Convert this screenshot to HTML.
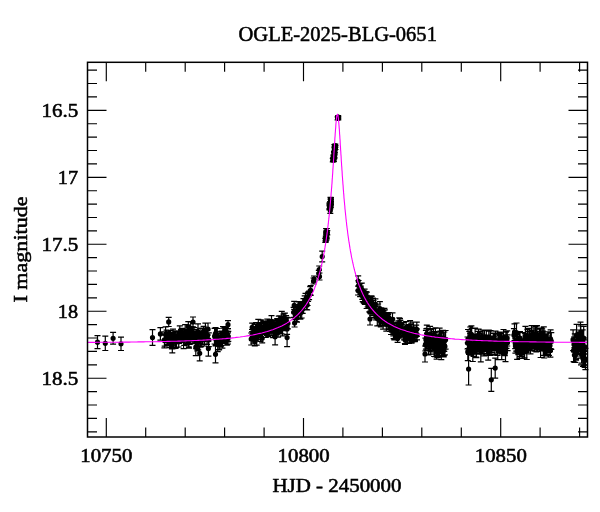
<!DOCTYPE html>
<html><head><meta charset="utf-8"><style>
html,body{margin:0;padding:0;background:#fff;width:600px;height:512px;overflow:hidden}
svg{display:block}
text{font-family:"Liberation Serif",serif;fill:#000}
</style></head><body>
<svg width="600" height="512" viewBox="0 0 600 512" style="will-change:transform">
<rect width="600" height="512" fill="#fff"/>
<path d="M97.5 335.7V348.7M94.5 335.7h6M94.5 348.7h6M105.3 336.1V350.5M102.3 336.1h6M102.3 350.5h6M113.1 332.4V344.2M110.1 332.4h6M110.1 344.2h6M121.0 337.1V350.5M118.0 337.1h6M118.0 350.5h6M152.5 329.7V345.3M149.5 329.7h6M149.5 345.3h6M160.4 327.6V340.2M157.4 327.6h6M157.4 340.2h6M168.7 317.3V326.5M165.7 317.3h6M165.7 326.5h6M164.4 331.9V347.9M161.4 331.9h6M161.4 347.9h6M164.7 334.8V346.1M161.7 334.8h6M161.7 346.1h6M165.6 326.9V342.2M162.6 326.9h6M162.6 342.2h6M166.6 330.2V339.6M163.6 330.2h6M163.6 339.6h6M166.9 331.8V344.9M163.9 331.8h6M163.9 344.9h6M167.9 332.4V344.4M164.9 332.4h6M164.9 344.4h6M168.3 332.8V345.9M165.3 332.8h6M165.3 345.9h6M169.6 334.6V347.7M166.6 334.6h6M166.6 347.7h6M170.3 335.9V347.5M167.3 335.9h6M167.3 347.5h6M170.5 330.6V344.4M167.5 330.6h6M167.5 344.4h6M171.6 333.5V345.7M168.6 333.5h6M168.6 345.7h6M171.9 333.0V348.9M168.9 333.0h6M168.9 348.9h6M173.0 329.1V342.7M170.0 329.1h6M170.0 342.7h6M173.3 332.6V348.6M170.3 332.6h6M170.3 348.6h6M174.4 330.8V340.1M171.4 330.8h6M171.4 340.1h6M175.3 332.2V341.4M172.3 332.2h6M172.3 341.4h6M175.6 336.0V348.4M172.6 336.0h6M172.6 348.4h6M176.5 335.7V347.5M173.5 335.7h6M173.5 347.5h6M177.2 331.2V340.3M174.2 331.2h6M174.2 340.3h6M178.0 332.1V341.2M175.0 332.1h6M175.0 341.2h6M178.7 336.4V347.0M175.7 336.4h6M175.7 347.0h6M179.2 331.6V343.3M176.2 331.6h6M176.2 343.3h6M179.8 325.8V339.0M176.8 325.8h6M176.8 339.0h6M181.0 329.6V341.9M178.0 329.6h6M178.0 341.9h6M181.7 328.4V339.4M178.7 328.4h6M178.7 339.4h6M182.4 330.1V342.3M179.4 330.1h6M179.4 342.3h6M182.6 331.7V341.6M179.6 331.7h6M179.6 341.6h6M183.6 331.9V348.6M180.6 331.9h6M180.6 348.6h6M184.2 333.0V345.3M181.2 333.0h6M181.2 345.3h6M185.2 324.6V340.0M182.2 324.6h6M182.2 340.0h6M186.0 329.4V338.5M183.0 329.4h6M183.0 338.5h6M186.2 331.4V345.1M183.2 331.4h6M183.2 345.1h6M186.9 330.6V343.9M183.9 330.6h6M183.9 343.9h6M188.0 334.1V343.4M185.0 334.1h6M185.0 343.4h6M188.7 335.3V346.8M185.7 335.3h6M185.7 346.8h6M189.0 332.8V348.2M186.0 332.8h6M186.0 348.2h6M189.7 330.3V344.4M186.7 330.3h6M186.7 344.4h6M190.7 322.0V337.4M187.7 322.0h6M187.7 337.4h6M191.3 326.5V335.7M188.3 326.5h6M188.3 335.7h6M192.2 332.4V343.4M189.2 332.4h6M189.2 343.4h6M192.8 326.8V341.1M189.8 326.8h6M189.8 341.1h6M193.7 332.7V343.7M190.7 332.7h6M190.7 343.7h6M194.1 327.6V339.0M191.1 327.6h6M191.1 339.0h6M194.6 331.6V341.3M191.6 331.6h6M191.6 341.3h6M195.9 329.6V340.1M192.9 329.6h6M192.9 340.1h6M196.3 333.9V348.7M193.3 333.9h6M193.3 348.7h6M197.3 337.8V350.9M194.3 337.8h6M194.3 350.9h6M198.0 323.9V340.0M195.0 323.9h6M195.0 340.0h6M198.2 332.8V349.8M195.2 332.8h6M195.2 349.8h6M199.5 333.2V343.6M196.5 333.2h6M196.5 343.6h6M200.1 328.3V340.6M197.1 328.3h6M197.1 340.6h6M200.3 332.4V347.2M197.3 332.4h6M197.3 347.2h6M201.2 331.5V346.6M198.2 331.5h6M198.2 346.6h6M202.4 328.2V338.2M199.4 328.2h6M199.4 338.2h6M202.5 331.7V344.3M199.5 331.7h6M199.5 344.3h6M203.6 326.3V335.9M200.6 326.3h6M200.6 335.9h6M204.2 333.4V346.0M201.2 333.4h6M201.2 346.0h6M204.6 331.8V344.0M201.6 331.8h6M201.6 344.0h6M205.4 323.1V339.0M202.4 323.1h6M202.4 339.0h6M206.3 329.6V340.9M203.3 329.6h6M203.3 340.9h6M207.0 328.4V344.3M204.0 328.4h6M204.0 344.3h6M207.5 330.0V340.8M204.5 330.0h6M204.5 340.8h6M208.8 332.9V346.7M205.8 332.9h6M205.8 346.7h6M214.6 328.4V344.0M211.6 328.4h6M211.6 344.0h6M215.6 327.6V339.0M212.6 327.6h6M212.6 339.0h6M215.8 333.4V345.1M212.8 333.4h6M212.8 345.1h6M216.8 328.5V342.1M213.8 328.5h6M213.8 342.1h6M217.3 328.5V345.1M214.3 328.5h6M214.3 345.1h6M217.7 337.3V351.6M214.7 337.3h6M214.7 351.6h6M218.1 336.6V345.7M215.1 336.6h6M215.1 345.7h6M219.1 335.1V349.9M216.1 335.1h6M216.1 349.9h6M219.2 336.9V349.5M216.2 336.9h6M216.2 349.5h6M220.1 331.9V342.4M217.1 331.9h6M217.1 342.4h6M220.8 333.3V346.7M217.8 333.3h6M217.8 346.7h6M221.3 331.5V345.6M218.3 331.5h6M218.3 345.6h6M221.6 331.0V343.7M218.6 331.0h6M218.6 343.7h6M222.4 332.4V348.2M219.4 332.4h6M219.4 348.2h6M223.0 326.5V340.1M220.0 326.5h6M220.0 340.1h6M223.4 328.1V338.5M220.4 328.1h6M220.4 338.5h6M223.9 331.5V343.5M220.9 331.5h6M220.9 343.5h6M224.6 327.3V343.4M221.6 327.3h6M221.6 343.4h6M225.1 329.8V342.1M222.1 329.8h6M222.1 342.1h6M225.9 327.5V339.5M222.9 327.5h6M222.9 339.5h6M226.3 330.9V340.4M223.3 330.9h6M223.3 340.4h6M226.9 334.1V345.1M223.9 334.1h6M223.9 345.1h6M227.5 328.8V342.0M224.5 328.8h6M224.5 342.0h6M228.0 332.9V344.0M225.0 332.9h6M225.0 344.0h6M228.3 331.3V341.4M225.3 331.3h6M225.3 341.4h6M251.2 333.0V345.0M248.2 333.0h6M248.2 345.0h6M252.0 329.5V340.4M249.0 329.5h6M249.0 340.4h6M252.2 323.2V331.6M249.2 323.2h6M249.2 331.6h6M252.9 327.2V338.0M249.9 327.2h6M249.9 338.0h6M253.3 331.2V343.2M250.3 331.2h6M250.3 343.2h6M254.1 326.8V340.9M251.1 326.8h6M251.1 340.9h6M254.8 337.2V345.9M251.8 337.2h6M251.8 345.9h6M255.5 324.4V338.0M252.5 324.4h6M252.5 338.0h6M256.1 322.5V334.1M253.1 322.5h6M253.1 334.1h6M256.7 332.4V345.2M253.7 332.4h6M253.7 345.2h6M257.1 330.4V338.0M254.1 330.4h6M254.1 338.0h6M257.3 327.1V336.3M254.3 327.1h6M254.3 336.3h6M258.3 319.3V332.6M255.3 319.3h6M255.3 332.6h6M258.5 330.4V339.5M255.5 330.4h6M255.5 339.5h6M259.5 329.4V337.4M256.5 329.4h6M256.5 337.4h6M259.8 323.3V332.5M256.8 323.3h6M256.8 332.5h6M260.5 327.5V341.4M257.5 327.5h6M257.5 341.4h6M260.8 319.9V332.7M257.8 319.9h6M257.8 332.7h6M261.6 322.5V331.1M258.6 322.5h6M258.6 331.1h6M262.2 333.6V342.9M259.2 333.6h6M259.2 342.9h6M262.6 325.5V333.0M259.6 325.5h6M259.6 333.0h6M263.2 322.7V334.3M260.2 322.7h6M260.2 334.3h6M263.8 321.1V334.5M260.8 321.1h6M260.8 334.5h6M264.1 322.4V333.6M261.1 322.4h6M261.1 333.6h6M264.9 323.7V334.5M261.9 323.7h6M261.9 334.5h6M265.5 321.8V330.0M262.5 321.8h6M262.5 330.0h6M265.8 328.0V337.5M262.8 328.0h6M262.8 337.5h6M266.7 327.0V335.5M263.7 327.0h6M263.7 335.5h6M267.3 319.2V332.0M264.3 319.2h6M264.3 332.0h6M267.7 320.8V332.3M264.7 320.8h6M264.7 332.3h6M268.1 328.2V336.6M265.1 328.2h6M265.1 336.6h6M269.1 321.2V332.0M266.1 321.2h6M266.1 332.0h6M269.7 322.3V335.3M266.7 322.3h6M266.7 335.3h6M270.0 321.2V329.1M267.0 321.2h6M267.0 329.1h6M270.8 319.9V328.2M267.8 319.9h6M267.8 328.2h6M271.2 326.5V335.7M268.2 326.5h6M268.2 335.7h6M271.5 315.6V327.3M268.5 315.6h6M268.5 327.3h6M272.2 320.8V331.0M269.2 320.8h6M269.2 331.0h6M273.1 324.7V337.6M270.1 324.7h6M270.1 337.6h6M273.3 320.8V328.9M270.3 320.8h6M270.3 328.9h6M274.2 320.1V328.1M271.2 320.1h6M271.2 328.1h6M274.9 329.5V336.8M271.9 329.5h6M271.9 336.8h6M275.4 323.1V334.6M272.4 323.1h6M272.4 334.6h6M275.9 321.1V335.2M272.9 321.1h6M272.9 335.2h6M276.6 324.1V334.0M273.6 324.1h6M273.6 334.0h6M277.2 318.6V329.2M274.2 318.6h6M274.2 329.2h6M277.4 319.6V331.1M274.4 319.6h6M274.4 331.1h6M278.1 327.7V337.2M275.1 327.7h6M275.1 337.2h6M278.8 316.2V324.0M275.8 316.2h6M275.8 324.0h6M279.3 319.9V330.2M276.3 319.9h6M276.3 330.2h6M279.8 315.8V324.0M276.8 315.8h6M276.8 324.0h6M280.4 325.4V334.0M277.4 325.4h6M277.4 334.0h6M281.2 317.1V328.9M278.2 317.1h6M278.2 328.9h6M281.6 322.5V333.9M278.6 322.5h6M278.6 333.9h6M281.8 311.4V325.8M278.8 311.4h6M278.8 325.8h6M282.6 321.2V335.8M279.6 321.2h6M279.6 335.8h6M283.4 316.8V325.6M280.4 316.8h6M280.4 325.6h6M283.5 314.2V328.4M280.5 314.2h6M280.5 328.4h6M284.2 319.3V330.7M281.2 319.3h6M281.2 330.7h6M284.9 313.1V326.7M281.9 313.1h6M281.9 326.7h6M285.5 319.8V327.8M282.5 319.8h6M282.5 327.8h6M286.1 315.6V322.9M283.1 315.6h6M283.1 322.9h6M286.8 317.4V326.8M283.8 317.4h6M283.8 326.8h6M287.1 323.4V334.4M284.1 323.4h6M284.1 334.4h6M287.9 317.9V328.9M284.9 317.9h6M284.9 328.9h6M293.6 307.3V317.4M290.6 307.3h6M290.6 317.4h6M294.6 319.1V327.0M291.6 319.1h6M291.6 327.0h6M295.3 311.3V319.6M292.3 311.3h6M292.3 319.6h6M296.4 308.8V321.7M293.4 308.8h6M293.4 321.7h6M297.0 313.5V322.1M294.0 313.5h6M294.0 322.1h6M297.3 304.6V315.6M294.3 304.6h6M294.3 315.6h6M298.2 301.8V313.9M295.2 301.8h6M295.2 313.9h6M299.0 301.6V312.2M296.0 301.6h6M296.0 312.2h6M300.3 303.6V312.7M297.3 303.6h6M297.3 312.7h6M300.4 306.8V319.2M297.4 306.8h6M297.4 319.2h6M301.7 305.8V318.0M298.7 305.8h6M298.7 318.0h6M302.3 302.3V310.0M299.3 302.3h6M299.3 310.0h6M302.7 304.7V313.3M299.7 304.7h6M299.7 313.3h6M303.5 298.6V306.9M300.5 298.6h6M300.5 306.9h6M304.7 295.9V304.4M301.7 295.9h6M301.7 304.4h6M305.5 293.3V305.5M302.5 293.3h6M302.5 305.5h6M306.2 300.8V309.6M303.2 300.8h6M303.2 309.6h6M307.2 300.0V309.8M304.2 300.0h6M304.2 309.8h6M307.6 295.1V305.5M304.6 295.1h6M304.6 305.5h6M308.1 292.2V301.5M305.1 292.2h6M305.1 301.5h6M309.1 291.1V299.6M306.1 291.1h6M306.1 299.6h6M310.2 286.7V294.7M307.2 286.7h6M307.2 294.7h6M310.7 285.5V295.3M307.7 285.5h6M307.7 295.3h6M319.2 266.0V273.0M316.2 266.0h6M316.2 273.0h6M318.8 270.3V276.7M315.8 270.3h6M315.8 276.7h6M319.5 273.0V280.0M316.5 273.0h6M316.5 280.0h6M314.0 276.0V282.0M311.0 276.0h6M311.0 282.0h6M313.5 278.0V284.0M310.5 278.0h6M310.5 284.0h6M322.2 251.1V261.9M319.2 251.1h6M319.2 261.9h6M325.8 236.0V240.3M322.8 236.0h6M322.8 240.3h6M326.3 231.1V237.0M323.3 231.1h6M323.3 237.0h6M326.9 228.5V234.5M323.9 228.5h6M323.9 234.5h6M326.2 232.6V237.3M323.2 232.6h6M323.2 237.3h6M325.3 238.5V242.5M322.3 238.5h6M322.3 242.5h6M326.6 234.8V239.8M323.6 234.8h6M323.6 239.8h6M327.3 230.6V234.9M324.3 230.6h6M324.3 234.9h6M326.4 233.1V237.5M323.4 233.1h6M323.4 237.5h6M326.1 228.6V234.2M323.1 228.6h6M323.1 234.2h6M326.5 231.8V237.2M323.5 231.8h6M323.5 237.2h6M325.9 236.3V240.0M322.9 236.3h6M322.9 240.0h6M325.7 237.5V242.1M322.7 237.5h6M322.7 242.1h6M325.8 237.4V241.6M322.8 237.4h6M322.8 241.6h6M326.7 232.7V238.3M323.7 232.7h6M323.7 238.3h6M330.3 207.4V213.3M327.3 207.4h6M327.3 213.3h6M330.3 203.5V207.3M327.3 203.5h6M327.3 207.3h6M330.5 197.4V203.1M327.5 197.4h6M327.5 203.1h6M330.6 199.5V203.2M327.6 199.5h6M327.6 203.2h6M331.0 200.1V204.3M328.0 200.1h6M328.0 204.3h6M329.5 204.5V209.6M326.5 204.5h6M326.5 209.6h6M331.0 197.6V201.5M328.0 197.6h6M328.0 201.5h6M330.3 204.2V209.0M327.3 204.2h6M327.3 209.0h6M330.3 202.2V207.3M327.3 202.2h6M327.3 207.3h6M329.5 205.2V209.8M326.5 205.2h6M326.5 209.8h6M330.7 198.4V202.0M327.7 198.4h6M327.7 202.0h6M330.3 203.2V208.1M327.3 203.2h6M327.3 208.1h6M330.1 201.6V206.0M327.1 201.6h6M327.1 206.0h6M329.3 203.2V208.9M326.3 203.2h6M326.3 208.9h6M330.9 199.6V205.1M327.9 199.6h6M327.9 205.1h6M331.0 203.0V207.2M328.0 203.0h6M328.0 207.2h6M333.5 157.7V161.1M330.5 157.7h6M330.5 161.1h6M335.5 145.7V149.5M332.5 145.7h6M332.5 149.5h6M333.9 158.6V161.5M330.9 158.6h6M330.9 161.5h6M335.3 144.0V147.4M332.3 144.0h6M332.3 147.4h6M333.8 157.5V161.3M330.8 157.5h6M330.8 161.3h6M333.1 157.8V161.1M330.1 157.8h6M330.1 161.1h6M334.2 152.5V157.1M331.2 152.5h6M331.2 157.1h6M334.7 146.5V150.2M331.7 146.5h6M331.7 150.2h6M334.0 151.9V154.9M331.0 151.9h6M331.0 154.9h6M334.0 151.3V154.9M331.0 151.3h6M331.0 154.9h6M334.2 155.5V158.9M331.2 155.5h6M331.2 158.9h6M334.4 144.7V147.9M331.4 144.7h6M331.4 147.9h6M332.8 158.4V161.8M329.8 158.4h6M329.8 161.8h6M335.0 144.4V149.1M332.0 144.4h6M332.0 149.1h6M334.0 155.5V159.1M331.0 155.5h6M331.0 159.1h6M335.2 144.3V147.2M332.2 144.3h6M332.2 147.2h6M334.9 147.6V152.3M331.9 147.6h6M331.9 152.3h6M334.6 147.5V152.0M331.6 147.5h6M331.6 152.0h6M334.6 153.5V157.8M331.6 153.5h6M331.6 157.8h6M333.7 156.9V161.7M330.7 156.9h6M330.7 161.7h6M334.6 150.0V154.7M331.6 150.0h6M331.6 154.7h6M333.3 155.1V158.6M330.3 155.1h6M330.3 158.6h6M338.2 116.9V119.3M335.2 116.9h6M335.2 119.3h6M337.6 116.8V119.8M334.6 116.8h6M334.6 119.8h6M338.3 116.0V118.2M335.3 116.0h6M335.3 118.2h6M338.1 116.0V118.8M335.1 116.0h6M335.1 118.8h6M338.1 115.5V118.5M335.1 115.5h6M335.1 118.5h6M338.3 116.5V119.9M335.3 116.5h6M335.3 119.9h6M358.2 275.8V286.2M355.2 275.8h6M355.2 286.2h6M358.6 280.5V290.5M355.6 280.5h6M355.6 290.5h6M358.0 286.0V295.0M355.0 286.0h6M355.0 295.0h6M360.5 283.5V292.5M357.5 283.5h6M357.5 292.5h6M360.1 286.4V296.6M357.1 286.4h6M357.1 296.6h6M360.8 286.2V293.9M357.8 286.2h6M357.8 293.9h6M361.4 283.1V293.8M358.4 283.1h6M358.4 293.8h6M361.8 283.2V295.9M358.8 283.2h6M358.8 295.9h6M362.3 290.5V299.4M359.3 290.5h6M359.3 299.4h6M362.7 292.0V301.7M359.7 292.0h6M359.7 301.7h6M363.5 290.5V302.7M360.5 290.5h6M360.5 302.7h6M364.2 291.4V303.5M361.2 291.4h6M361.2 303.5h6M364.6 289.1V301.6M361.6 289.1h6M361.6 301.6h6M364.8 294.7V304.3M361.8 294.7h6M361.8 304.3h6M365.6 293.3V303.9M362.6 293.3h6M362.6 303.9h6M365.9 291.6V299.3M362.9 291.6h6M362.9 299.3h6M366.6 295.3V308.5M363.6 295.3h6M363.6 308.5h6M366.9 292.1V303.3M363.9 292.1h6M363.9 303.3h6M367.7 297.0V306.8M364.7 297.0h6M364.7 306.8h6M368.2 296.4V305.2M365.2 296.4h6M365.2 305.2h6M368.6 300.4V308.2M365.6 300.4h6M365.6 308.2h6M369.2 301.1V312.0M366.2 301.1h6M366.2 312.0h6M369.5 301.9V311.8M366.5 301.9h6M366.5 311.8h6M370.3 297.6V311.2M367.3 297.6h6M367.3 311.2h6M370.8 299.0V313.9M367.8 299.0h6M367.8 313.9h6M371.4 295.8V310.2M368.4 295.8h6M368.4 310.2h6M371.7 296.3V309.7M368.7 296.3h6M368.7 309.7h6M372.1 305.5V315.7M369.1 305.5h6M369.1 315.7h6M372.9 298.0V311.4M369.9 298.0h6M369.9 311.4h6M373.5 300.5V314.1M370.5 300.5h6M370.5 314.1h6M374.0 305.2V317.6M371.0 305.2h6M371.0 317.6h6M374.4 302.4V312.4M371.4 302.4h6M371.4 312.4h6M374.9 306.3V314.1M371.9 306.3h6M371.9 314.1h6M375.4 298.8V309.8M372.4 298.8h6M372.4 309.8h6M376.1 310.5V320.0M373.1 310.5h6M373.1 320.0h6M376.4 310.6V318.7M373.4 310.6h6M373.4 318.7h6M377.2 309.1V317.0M374.2 309.1h6M374.2 317.0h6M377.3 310.9V325.8M374.3 310.9h6M374.3 325.8h6M378.1 304.0V318.5M375.1 304.0h6M375.1 318.5h6M378.5 310.4V317.5M375.5 310.4h6M375.5 317.5h6M379.2 315.0V325.7M376.2 315.0h6M376.2 325.7h6M379.7 316.1V325.0M376.7 316.1h6M376.7 325.0h6M379.9 301.7V315.5M376.9 301.7h6M376.9 315.5h6M380.8 316.5V326.9M377.8 316.5h6M377.8 326.9h6M381.3 307.9V320.1M378.3 307.9h6M378.3 320.1h6M381.8 308.8V321.9M378.8 308.8h6M378.8 321.9h6M382.5 311.1V325.5M379.5 311.1h6M379.5 325.5h6M382.8 309.8V319.5M379.8 309.8h6M379.8 319.5h6M383.1 314.2V329.1M380.1 314.2h6M380.1 329.1h6M383.6 310.9V321.1M380.6 310.9h6M380.6 321.1h6M384.4 308.4V319.1M381.4 308.4h6M381.4 319.1h6M384.9 309.8V318.3M381.9 309.8h6M381.9 318.3h6M385.2 314.2V321.4M382.2 314.2h6M382.2 321.4h6M385.7 312.7V324.1M382.7 312.7h6M382.7 324.1h6M386.3 317.1V331.2M383.3 317.1h6M383.3 331.2h6M386.8 315.2V326.1M383.8 315.2h6M383.8 326.1h6M387.6 313.1V326.2M384.6 313.1h6M384.6 326.2h6M388.1 314.4V329.0M385.1 314.4h6M385.1 329.0h6M388.7 318.9V328.9M385.7 318.9h6M385.7 328.9h6M388.8 312.5V322.1M385.8 312.5h6M385.8 322.1h6M389.7 317.5V329.5M386.7 317.5h6M386.7 329.5h6M390.1 323.0V331.3M387.1 323.0h6M387.1 331.3h6M390.4 322.0V331.3M387.4 322.0h6M387.4 331.3h6M391.0 325.9V334.5M388.0 325.9h6M388.0 334.5h6M391.8 317.9V331.7M388.8 317.9h6M388.8 331.7h6M392.3 318.8V327.8M389.3 318.8h6M389.3 327.8h6M392.5 312.8V325.8M389.5 312.8h6M389.5 325.8h6M393.3 327.3V335.9M390.3 327.3h6M390.3 335.9h6M393.6 326.3V338.6M390.6 326.3h6M390.6 338.6h6M394.3 325.3V339.8M391.3 325.3h6M391.3 339.8h6M394.8 324.0V333.0M391.8 324.0h6M391.8 333.0h6M395.2 329.3V339.9M392.2 329.3h6M392.2 339.9h6M395.7 328.2V338.0M392.7 328.2h6M392.7 338.0h6M396.1 328.2V338.2M393.1 328.2h6M393.1 338.2h6M396.7 323.7V330.9M393.7 323.7h6M393.7 330.9h6M397.2 322.3V336.1M394.2 322.3h6M394.2 336.1h6M397.6 334.9V342.3M394.6 334.9h6M394.6 342.3h6M398.4 320.9V333.5M395.4 320.9h6M395.4 333.5h6M398.8 329.0V338.1M395.8 329.0h6M395.8 338.1h6M399.3 317.8V328.5M396.3 317.8h6M396.3 328.5h6M400.0 318.6V328.0M397.0 318.6h6M397.0 328.0h6M400.4 320.4V329.4M397.4 320.4h6M397.4 329.4h6M401.0 323.1V333.5M398.0 323.1h6M398.0 333.5h6M401.5 323.8V332.4M398.5 323.8h6M398.5 332.4h6M402.2 324.9V336.7M399.2 324.9h6M399.2 336.7h6M402.4 322.5V337.1M399.4 322.5h6M399.4 337.1h6M403.3 327.8V335.3M400.3 327.8h6M400.3 335.3h6M403.9 328.9V339.8M400.9 328.9h6M400.9 339.8h6M403.9 322.3V336.1M400.9 322.3h6M400.9 336.1h6M404.9 333.8V343.5M401.9 333.8h6M401.9 343.5h6M405.0 335.0V344.4M402.0 335.0h6M402.0 344.4h6M406.0 328.5V343.4M403.0 328.5h6M403.0 343.4h6M406.1 321.7V335.2M403.1 321.7h6M403.1 335.2h6M406.6 326.5V337.9M403.6 326.5h6M403.6 337.9h6M407.4 334.4V342.8M404.4 334.4h6M404.4 342.8h6M408.0 325.4V334.6M405.0 325.4h6M405.0 334.6h6M408.3 331.2V340.6M405.3 331.2h6M405.3 340.6h6M409.0 328.6V343.5M406.0 328.6h6M406.0 343.5h6M409.3 324.7V337.5M406.3 324.7h6M406.3 337.5h6M410.1 320.7V334.3M407.1 320.7h6M407.1 334.3h6M410.6 328.8V338.6M407.6 328.8h6M407.6 338.6h6M411.1 323.8V336.8M408.1 323.8h6M408.1 336.8h6M411.6 335.2V343.1M408.6 335.2h6M408.6 343.1h6M412.3 333.8V341.8M409.3 333.8h6M409.3 341.8h6M412.7 332.4V339.8M409.7 332.4h6M409.7 339.8h6M413.2 322.2V336.2M410.2 322.2h6M410.2 336.2h6M413.5 329.3V338.9M410.5 329.3h6M410.5 338.9h6M413.9 325.0V334.9M410.9 325.0h6M410.9 334.9h6M414.8 327.4V341.6M411.8 327.4h6M411.8 341.6h6M415.0 330.2V341.2M412.0 330.2h6M412.0 341.2h6M415.5 329.6V337.3M412.5 329.6h6M412.5 337.3h6M416.2 325.1V335.2M413.2 325.1h6M413.2 335.2h6M416.8 322.1V336.5M413.8 322.1h6M413.8 336.5h6M417.0 329.0V339.8M414.0 329.0h6M414.0 339.8h6M425.4 338.2V350.9M422.4 338.2h6M422.4 350.9h6M425.9 330.4V349.2M422.9 330.4h6M422.9 349.2h6M426.4 328.6V346.3M423.4 328.6h6M423.4 346.3h6M426.8 325.1V342.7M423.8 325.1h6M423.8 342.7h6M427.0 333.3V350.7M424.0 333.3h6M424.0 350.7h6M427.4 328.4V343.4M424.4 328.4h6M424.4 343.4h6M428.0 332.3V343.9M425.0 332.3h6M425.0 343.9h6M428.5 335.1V354.9M425.5 335.1h6M425.5 354.9h6M429.2 334.9V347.8M426.2 334.9h6M426.2 347.8h6M429.5 337.5V350.6M426.5 337.5h6M426.5 350.6h6M430.1 326.4V345.9M427.1 326.4h6M427.1 345.9h6M430.2 329.3V343.1M427.2 329.3h6M427.2 343.1h6M430.7 339.3V354.2M427.7 339.3h6M427.7 354.2h6M431.6 328.9V345.2M428.6 328.9h6M428.6 345.2h6M431.7 329.0V346.9M428.7 329.0h6M428.7 346.9h6M432.1 336.3V351.8M429.1 336.3h6M429.1 351.8h6M432.9 333.6V347.2M429.9 333.6h6M429.9 347.2h6M433.0 335.4V346.6M430.0 335.4h6M430.0 346.6h6M433.5 328.5V340.5M430.5 328.5h6M430.5 340.5h6M434.1 340.9V356.5M431.1 340.9h6M431.1 356.5h6M434.6 331.7V341.7M431.6 331.7h6M431.6 341.7h6M435.2 339.9V356.7M432.2 339.9h6M432.2 356.7h6M435.5 327.9V344.4M432.5 327.9h6M432.5 344.4h6M435.9 332.8V350.1M432.9 332.8h6M432.9 350.1h6M436.6 344.6V359.1M433.6 344.6h6M433.6 359.1h6M436.8 341.8V355.7M433.8 341.8h6M433.8 355.7h6M437.3 338.2V357.3M434.3 338.2h6M434.3 357.3h6M438.2 339.9V352.8M435.2 339.9h6M435.2 352.8h6M438.5 338.8V357.2M435.5 338.8h6M435.5 357.2h6M439.0 340.6V355.8M436.0 340.6h6M436.0 355.8h6M439.4 340.0V355.0M436.4 340.0h6M436.4 355.0h6M439.6 328.1V343.9M436.6 328.1h6M436.6 343.9h6M440.3 331.2V345.9M437.3 331.2h6M437.3 345.9h6M440.8 331.4V349.9M437.8 331.4h6M437.8 349.9h6M441.3 343.4V359.7M438.3 343.4h6M438.3 359.7h6M441.6 333.2V345.8M438.6 333.2h6M438.6 345.8h6M442.3 337.7V351.4M439.3 337.7h6M439.3 351.4h6M442.6 336.6V355.0M439.6 336.6h6M439.6 355.0h6M443.1 330.3V345.7M440.1 330.3h6M440.1 345.7h6M443.7 339.3V356.9M440.7 339.3h6M440.7 356.9h6M443.9 344.7V355.6M440.9 344.7h6M440.9 355.6h6M444.3 332.0V351.3M441.3 332.0h6M441.3 351.3h6M444.9 337.9V354.9M441.9 337.9h6M441.9 354.9h6M445.6 330.5V349.1M442.6 330.5h6M442.6 349.1h6M467.5 337.0V349.0M464.5 337.0h6M464.5 349.0h6M467.8 342.8V360.6M464.8 342.8h6M464.8 360.6h6M468.0 329.5V348.6M465.0 329.5h6M465.0 348.6h6M469.0 342.7V354.4M466.0 342.7h6M466.0 354.4h6M469.3 331.3V350.3M466.3 331.3h6M466.3 350.3h6M470.1 333.5V348.4M467.1 333.5h6M467.1 348.4h6M470.2 327.0V346.5M467.2 327.0h6M467.2 346.5h6M470.6 342.9V355.1M467.6 342.9h6M467.6 355.1h6M471.4 325.9V342.7M468.4 325.9h6M468.4 342.7h6M471.7 328.5V348.4M468.7 328.5h6M468.7 348.4h6M472.2 342.1V352.8M469.2 342.1h6M469.2 352.8h6M472.8 342.9V361.5M469.8 342.9h6M469.8 361.5h6M473.5 338.9V356.4M470.5 338.9h6M470.5 356.4h6M474.0 336.7V352.8M471.0 336.7h6M471.0 352.8h6M474.3 340.7V354.1M471.3 340.7h6M471.3 354.1h6M475.1 328.2V343.8M472.1 328.2h6M472.1 343.8h6M475.3 335.6V349.4M472.3 335.6h6M472.3 349.4h6M476.2 344.1V357.0M473.2 344.1h6M473.2 357.0h6M476.4 340.2V357.6M473.4 340.2h6M473.4 357.6h6M476.8 338.7V353.7M473.8 338.7h6M473.8 353.7h6M477.5 331.4V346.1M474.5 331.4h6M474.5 346.1h6M477.8 337.2V348.6M474.8 337.2h6M474.8 348.6h6M478.6 329.2V348.4M475.6 329.2h6M475.6 348.4h6M479.2 333.6V349.7M476.2 333.6h6M476.2 349.7h6M479.3 331.5V349.3M476.3 331.5h6M476.3 349.3h6M480.2 332.1V351.1M477.2 332.1h6M477.2 351.1h6M480.3 335.4V354.1M477.3 335.4h6M477.3 354.1h6M480.8 342.1V361.8M477.8 342.1h6M477.8 361.8h6M481.7 334.0V351.9M478.7 334.0h6M478.7 351.9h6M481.8 339.2V350.5M478.8 339.2h6M478.8 350.5h6M482.3 336.2V353.7M479.3 336.2h6M479.3 353.7h6M482.9 330.0V347.8M479.9 330.0h6M479.9 347.8h6M483.8 341.4V356.0M480.8 341.4h6M480.8 356.0h6M484.1 337.5V355.9M481.1 337.5h6M481.1 355.9h6M484.4 330.7V342.8M481.4 330.7h6M481.4 342.8h6M485.2 335.5V348.1M482.2 335.5h6M482.2 348.1h6M485.8 339.3V351.7M482.8 339.3h6M482.8 351.7h6M486.3 330.4V346.1M483.3 330.4h6M483.3 346.1h6M486.5 338.8V349.9M483.5 338.8h6M483.5 349.9h6M487.3 340.7V354.8M484.3 340.7h6M484.3 354.8h6M487.7 335.2V353.5M484.7 335.2h6M484.7 353.5h6M488.2 342.1V360.1M485.2 342.1h6M485.2 360.1h6M488.8 330.0V348.5M485.8 330.0h6M485.8 348.5h6M489.1 331.2V346.5M486.1 331.2h6M486.1 346.5h6M489.5 336.8V353.8M486.5 336.8h6M486.5 353.8h6M490.0 337.7V355.5M487.0 337.7h6M487.0 355.5h6M490.6 330.7V348.7M487.6 330.7h6M487.6 348.7h6M491.3 336.0V352.4M488.3 336.0h6M488.3 352.4h6M492.0 340.3V355.2M489.0 340.3h6M489.0 355.2h6M492.1 339.4V352.3M489.1 339.4h6M489.1 352.3h6M492.8 336.5V349.0M489.8 336.5h6M489.8 349.0h6M493.2 333.1V349.2M490.2 333.1h6M490.2 349.2h6M493.9 333.4V350.2M490.9 333.4h6M490.9 350.2h6M494.1 340.5V354.7M491.1 340.5h6M491.1 354.7h6M495.0 333.2V350.3M492.0 333.2h6M492.0 350.3h6M495.5 331.1V349.8M492.5 331.1h6M492.5 349.8h6M495.9 336.0V348.6M492.9 336.0h6M492.9 348.6h6M496.1 336.0V348.4M493.1 336.0h6M493.1 348.4h6M496.8 341.8V353.2M493.8 341.8h6M493.8 353.2h6M497.6 343.3V355.3M494.6 343.3h6M494.6 355.3h6M497.8 341.0V359.6M494.8 341.0h6M494.8 359.6h6M498.5 333.1V348.2M495.5 333.1h6M495.5 348.2h6M498.9 334.1V352.3M495.9 334.1h6M495.9 352.3h6M499.6 335.4V346.5M496.6 335.4h6M496.6 346.5h6M499.8 332.1V344.1M496.8 332.1h6M496.8 344.1h6M500.2 333.4V352.8M497.2 333.4h6M497.2 352.8h6M501.0 333.4V347.2M498.0 333.4h6M498.0 347.2h6M501.7 340.6V359.6M498.7 340.6h6M498.7 359.6h6M501.9 340.0V353.9M498.9 340.0h6M498.9 353.9h6M502.3 338.6V349.1M499.3 338.6h6M499.3 349.1h6M502.7 336.4V352.6M499.7 336.4h6M499.7 352.6h6M503.5 329.5V348.9M500.5 329.5h6M500.5 348.9h6M504.0 339.7V354.1M501.0 339.7h6M501.0 354.1h6M504.5 334.8V354.4M501.5 334.8h6M501.5 354.4h6M504.8 342.0V355.7M501.8 342.0h6M501.8 355.7h6M505.5 342.9V361.7M502.5 342.9h6M502.5 361.7h6M505.9 332.1V343.6M502.9 332.1h6M502.9 343.6h6M506.5 337.0V348.3M503.5 337.0h6M503.5 348.3h6M507.2 330.8V346.0M504.2 330.8h6M504.2 346.0h6M507.6 334.8V350.6M504.6 334.8h6M504.6 350.6h6M513.9 328.6V341.6M510.9 328.6h6M510.9 341.6h6M514.5 323.9V340.6M511.5 323.9h6M511.5 340.6h6M515.2 337.9V348.7M512.2 337.9h6M512.2 348.7h6M515.4 338.8V353.1M512.4 338.8h6M512.4 353.1h6M516.2 334.6V351.2M513.2 334.6h6M513.2 351.2h6M516.5 323.0V342.0M513.5 323.0h6M513.5 342.0h6M517.1 343.2V359.3M514.1 343.2h6M514.1 359.3h6M517.4 333.6V348.3M514.4 333.6h6M514.4 348.3h6M518.3 341.9V354.7M515.3 341.9h6M515.3 354.7h6M518.4 339.1V350.1M515.4 339.1h6M515.4 350.1h6M518.9 331.9V344.9M515.9 331.9h6M515.9 344.9h6M519.4 342.4V358.1M516.4 342.4h6M516.4 358.1h6M520.0 331.5V344.8M517.0 331.5h6M517.0 344.8h6M520.6 340.9V356.5M517.6 340.9h6M517.6 356.5h6M521.1 339.9V353.2M518.1 339.9h6M518.1 353.2h6M521.8 345.2V356.3M518.8 345.2h6M518.8 356.3h6M522.2 347.8V358.3M519.2 347.8h6M519.2 358.3h6M522.4 341.1V351.3M519.4 341.1h6M519.4 351.3h6M523.2 332.7V352.3M520.2 332.7h6M520.2 352.3h6M523.8 339.8V353.7M520.8 339.8h6M520.8 353.7h6M524.1 342.7V358.2M521.1 342.7h6M521.1 358.2h6M524.6 338.9V357.8M521.6 338.9h6M521.6 357.8h6M525.1 333.4V349.7M522.1 333.4h6M522.1 349.7h6M525.4 326.4V346.2M522.4 326.4h6M522.4 346.2h6M526.4 338.3V352.1M523.4 338.3h6M523.4 352.1h6M526.8 342.7V359.5M523.8 342.7h6M523.8 359.5h6M527.4 329.4V343.9M524.4 329.4h6M524.4 343.9h6M527.8 338.0V352.0M524.8 338.0h6M524.8 352.0h6M527.9 335.4V349.2M524.9 335.4h6M524.9 349.2h6M528.8 331.4V343.3M525.8 331.4h6M525.8 343.3h6M529.0 328.4V344.8M526.0 328.4h6M526.0 344.8h6M529.4 336.0V349.4M526.4 336.0h6M526.4 349.4h6M530.0 331.5V348.5M527.0 331.5h6M527.0 348.5h6M530.5 339.3V353.9M527.5 339.3h6M527.5 353.9h6M531.2 336.2V350.5M528.2 336.2h6M528.2 350.5h6M531.6 325.7V343.4M528.6 325.7h6M528.6 343.4h6M532.0 335.8V349.8M529.0 335.8h6M529.0 349.8h6M532.5 330.2V348.4M529.5 330.2h6M529.5 348.4h6M533.1 330.2V346.9M530.1 330.2h6M530.1 346.9h6M533.8 330.1V342.4M530.8 330.1h6M530.8 342.4h6M534.0 327.8V346.0M531.0 327.8h6M531.0 346.0h6M534.5 333.0V351.2M531.5 333.0h6M531.5 351.2h6M535.0 332.2V347.6M532.0 332.2h6M532.0 347.6h6M535.5 326.3V341.6M532.5 326.3h6M532.5 341.6h6M536.3 341.3V352.0M533.3 341.3h6M533.3 352.0h6M536.8 325.5V344.4M533.8 325.5h6M533.8 344.4h6M537.0 325.8V344.6M534.0 325.8h6M534.0 344.6h6M537.6 332.2V351.4M534.6 332.2h6M534.6 351.4h6M538.0 338.2V349.3M535.0 338.2h6M535.0 349.3h6M538.8 335.4V345.5M535.8 335.4h6M535.8 345.5h6M539.3 329.1V347.2M536.3 329.1h6M536.3 347.2h6M539.9 331.6V345.6M536.9 331.6h6M536.9 345.6h6M540.4 328.0V343.9M537.4 328.0h6M537.4 343.9h6M540.6 340.3V357.5M537.6 340.3h6M537.6 357.5h6M541.1 333.5V348.6M538.1 333.5h6M538.1 348.6h6M541.7 336.4V348.1M538.7 336.4h6M538.7 348.1h6M542.2 328.8V339.9M539.2 328.8h6M539.2 339.9h6M542.7 330.9V348.6M539.7 330.9h6M539.7 348.6h6M543.3 336.9V355.3M540.3 336.9h6M540.3 355.3h6M543.8 326.9V346.8M540.8 326.9h6M540.8 346.8h6M544.2 340.8V358.0M541.2 340.8h6M541.2 358.0h6M544.9 331.9V344.5M541.9 331.9h6M541.9 344.5h6M545.3 344.0V355.6M542.3 344.0h6M542.3 355.6h6M545.8 334.5V354.3M542.8 334.5h6M542.8 354.3h6M546.2 337.6V355.8M543.2 337.6h6M543.2 355.8h6M546.8 333.8V344.0M543.8 333.8h6M543.8 344.0h6M547.2 335.8V354.7M544.2 335.8h6M544.2 354.7h6M547.8 331.8V346.4M544.8 331.8h6M544.8 346.4h6M548.3 338.9V351.7M545.3 338.9h6M545.3 351.7h6M549.0 344.7V355.3M546.0 344.7h6M546.0 355.3h6M549.3 337.3V352.4M546.3 337.3h6M546.3 352.4h6M550.0 339.8V351.5M547.0 339.8h6M547.0 351.5h6M550.4 343.1V357.2M547.4 343.1h6M547.4 357.2h6M550.6 329.9V348.6M547.6 329.9h6M547.6 348.6h6M551.3 332.6V349.3M548.3 332.6h6M548.3 349.3h6M573.1 329.8V350.7M570.1 329.8h6M570.1 350.7h6M573.6 338.9V361.6M570.6 338.9h6M570.6 361.6h6M574.0 337.1V351.8M571.0 337.1h6M571.0 351.8h6M574.4 347.6V362.5M571.4 347.6h6M571.4 362.5h6M574.8 333.8V348.1M571.8 333.8h6M571.8 348.1h6M575.2 348.6V362.3M572.2 348.6h6M572.2 362.3h6M575.9 342.1V358.9M572.9 342.1h6M572.9 358.9h6M576.1 344.9V360.1M573.1 344.9h6M573.1 360.1h6M576.6 324.4V346.3M573.6 324.4h6M573.6 346.3h6M577.2 343.5V356.0M574.2 343.5h6M574.2 356.0h6M577.7 341.1V353.6M574.7 341.1h6M574.7 353.6h6M578.0 339.8V354.4M575.0 339.8h6M575.0 354.4h6M578.4 332.2V346.3M575.4 332.2h6M575.4 346.3h6M578.7 333.0V354.1M575.7 333.0h6M575.7 354.1h6M579.3 332.1V346.3M576.3 332.1h6M576.3 346.3h6M579.7 330.0V349.5M576.7 330.0h6M576.7 349.5h6M580.3 341.1V358.2M577.3 341.1h6M577.3 358.2h6M580.5 322.1V344.8M577.5 322.1h6M577.5 344.8h6M580.8 326.0V344.9M577.8 326.0h6M577.8 344.9h6M581.4 331.2V343.6M578.4 331.2h6M578.4 343.6h6M581.6 345.5V363.2M578.6 345.5h6M578.6 363.2h6M582.4 339.6V354.0M579.4 339.6h6M579.4 354.0h6M582.7 329.9V346.6M579.7 329.9h6M579.7 346.6h6M583.0 350.8V366.4M580.0 350.8h6M580.0 366.4h6M583.7 326.3V349.7M580.7 326.3h6M580.7 349.7h6M583.9 350.8V365.1M580.9 350.8h6M580.9 365.1h6M584.6 354.1V367.3M581.6 354.1h6M581.6 367.3h6M584.8 339.9V353.9M581.8 339.9h6M581.8 353.9h6M585.4 348.3V369.6M582.4 348.3h6M582.4 369.6h6M172.3 338.8V352.8M169.3 338.8h6M169.3 352.8h6M188.3 321.7V331.7M185.3 321.7h6M185.3 331.7h6M193.0 317.0V327.0M190.0 317.0h6M190.0 327.0h6M195.8 338.7V355.7M192.8 338.7h6M192.8 355.7h6M199.7 345.8V360.8M196.7 345.8h6M196.7 360.8h6M208.4 341.1V356.1M205.4 341.1h6M205.4 356.1h6M208.0 323.0V335.0M205.0 323.0h6M205.0 335.0h6M215.5 345.8V362.8M212.5 345.8h6M212.5 362.8h6M228.0 320.7V328.7M225.0 320.7h6M225.0 328.7h6M275.1 328.8V344.8M272.1 328.8h6M272.1 344.8h6M287.1 328.6V346.6M284.1 328.6h6M284.1 346.6h6M294.2 301.4V309.4M291.2 301.4h6M291.2 309.4h6M425.0 346.0V362.0M422.0 346.0h6M422.0 362.0h6M468.6 353.0V385.0M465.6 353.0h6M465.6 385.0h6M491.3 368.3V391.3M488.3 368.3h6M488.3 391.3h6M495.2 358.1V378.1M492.2 358.1h6M492.2 378.1h6M370.0 313.0V325.0M367.0 313.0h6M367.0 325.0h6" stroke="#000" stroke-width="1.2" fill="none"/>
<path d="M94.9 342.2a2.6 2.6 0 1 0 5.2 0a2.6 2.6 0 1 0 -5.2 0M102.7 343.3a2.6 2.6 0 1 0 5.2 0a2.6 2.6 0 1 0 -5.2 0M110.5 338.3a2.6 2.6 0 1 0 5.2 0a2.6 2.6 0 1 0 -5.2 0M118.4 343.8a2.6 2.6 0 1 0 5.2 0a2.6 2.6 0 1 0 -5.2 0M149.9 337.5a2.6 2.6 0 1 0 5.2 0a2.6 2.6 0 1 0 -5.2 0M157.8 333.9a2.6 2.6 0 1 0 5.2 0a2.6 2.6 0 1 0 -5.2 0M166.1 321.9a2.6 2.6 0 1 0 5.2 0a2.6 2.6 0 1 0 -5.2 0M161.8 339.9a2.6 2.6 0 1 0 5.2 0a2.6 2.6 0 1 0 -5.2 0M162.1 340.5a2.6 2.6 0 1 0 5.2 0a2.6 2.6 0 1 0 -5.2 0M163.0 334.6a2.6 2.6 0 1 0 5.2 0a2.6 2.6 0 1 0 -5.2 0M164.0 334.9a2.6 2.6 0 1 0 5.2 0a2.6 2.6 0 1 0 -5.2 0M164.3 338.3a2.6 2.6 0 1 0 5.2 0a2.6 2.6 0 1 0 -5.2 0M165.3 338.4a2.6 2.6 0 1 0 5.2 0a2.6 2.6 0 1 0 -5.2 0M165.7 339.3a2.6 2.6 0 1 0 5.2 0a2.6 2.6 0 1 0 -5.2 0M167.0 341.1a2.6 2.6 0 1 0 5.2 0a2.6 2.6 0 1 0 -5.2 0M167.7 341.7a2.6 2.6 0 1 0 5.2 0a2.6 2.6 0 1 0 -5.2 0M167.9 337.5a2.6 2.6 0 1 0 5.2 0a2.6 2.6 0 1 0 -5.2 0M169.0 339.6a2.6 2.6 0 1 0 5.2 0a2.6 2.6 0 1 0 -5.2 0M169.3 340.9a2.6 2.6 0 1 0 5.2 0a2.6 2.6 0 1 0 -5.2 0M170.4 335.9a2.6 2.6 0 1 0 5.2 0a2.6 2.6 0 1 0 -5.2 0M170.7 340.6a2.6 2.6 0 1 0 5.2 0a2.6 2.6 0 1 0 -5.2 0M171.8 335.5a2.6 2.6 0 1 0 5.2 0a2.6 2.6 0 1 0 -5.2 0M172.7 336.8a2.6 2.6 0 1 0 5.2 0a2.6 2.6 0 1 0 -5.2 0M173.0 342.2a2.6 2.6 0 1 0 5.2 0a2.6 2.6 0 1 0 -5.2 0M173.9 341.6a2.6 2.6 0 1 0 5.2 0a2.6 2.6 0 1 0 -5.2 0M174.6 335.7a2.6 2.6 0 1 0 5.2 0a2.6 2.6 0 1 0 -5.2 0M175.4 336.6a2.6 2.6 0 1 0 5.2 0a2.6 2.6 0 1 0 -5.2 0M176.1 341.7a2.6 2.6 0 1 0 5.2 0a2.6 2.6 0 1 0 -5.2 0M176.6 337.5a2.6 2.6 0 1 0 5.2 0a2.6 2.6 0 1 0 -5.2 0M177.2 332.4a2.6 2.6 0 1 0 5.2 0a2.6 2.6 0 1 0 -5.2 0M178.4 335.8a2.6 2.6 0 1 0 5.2 0a2.6 2.6 0 1 0 -5.2 0M179.1 333.9a2.6 2.6 0 1 0 5.2 0a2.6 2.6 0 1 0 -5.2 0M179.8 336.2a2.6 2.6 0 1 0 5.2 0a2.6 2.6 0 1 0 -5.2 0M180.0 336.7a2.6 2.6 0 1 0 5.2 0a2.6 2.6 0 1 0 -5.2 0M181.0 340.2a2.6 2.6 0 1 0 5.2 0a2.6 2.6 0 1 0 -5.2 0M181.6 339.1a2.6 2.6 0 1 0 5.2 0a2.6 2.6 0 1 0 -5.2 0M182.6 332.3a2.6 2.6 0 1 0 5.2 0a2.6 2.6 0 1 0 -5.2 0M183.4 334.0a2.6 2.6 0 1 0 5.2 0a2.6 2.6 0 1 0 -5.2 0M183.6 338.2a2.6 2.6 0 1 0 5.2 0a2.6 2.6 0 1 0 -5.2 0M184.3 337.2a2.6 2.6 0 1 0 5.2 0a2.6 2.6 0 1 0 -5.2 0M185.4 338.8a2.6 2.6 0 1 0 5.2 0a2.6 2.6 0 1 0 -5.2 0M186.1 341.0a2.6 2.6 0 1 0 5.2 0a2.6 2.6 0 1 0 -5.2 0M186.4 340.5a2.6 2.6 0 1 0 5.2 0a2.6 2.6 0 1 0 -5.2 0M187.1 337.4a2.6 2.6 0 1 0 5.2 0a2.6 2.6 0 1 0 -5.2 0M188.1 329.7a2.6 2.6 0 1 0 5.2 0a2.6 2.6 0 1 0 -5.2 0M188.7 331.1a2.6 2.6 0 1 0 5.2 0a2.6 2.6 0 1 0 -5.2 0M189.6 337.9a2.6 2.6 0 1 0 5.2 0a2.6 2.6 0 1 0 -5.2 0M190.2 334.0a2.6 2.6 0 1 0 5.2 0a2.6 2.6 0 1 0 -5.2 0M191.1 338.2a2.6 2.6 0 1 0 5.2 0a2.6 2.6 0 1 0 -5.2 0M191.5 333.3a2.6 2.6 0 1 0 5.2 0a2.6 2.6 0 1 0 -5.2 0M192.0 336.4a2.6 2.6 0 1 0 5.2 0a2.6 2.6 0 1 0 -5.2 0M193.3 334.8a2.6 2.6 0 1 0 5.2 0a2.6 2.6 0 1 0 -5.2 0M193.7 341.3a2.6 2.6 0 1 0 5.2 0a2.6 2.6 0 1 0 -5.2 0M194.7 344.4a2.6 2.6 0 1 0 5.2 0a2.6 2.6 0 1 0 -5.2 0M195.4 331.9a2.6 2.6 0 1 0 5.2 0a2.6 2.6 0 1 0 -5.2 0M195.6 341.3a2.6 2.6 0 1 0 5.2 0a2.6 2.6 0 1 0 -5.2 0M196.9 338.4a2.6 2.6 0 1 0 5.2 0a2.6 2.6 0 1 0 -5.2 0M197.5 334.4a2.6 2.6 0 1 0 5.2 0a2.6 2.6 0 1 0 -5.2 0M197.7 339.8a2.6 2.6 0 1 0 5.2 0a2.6 2.6 0 1 0 -5.2 0M198.6 339.0a2.6 2.6 0 1 0 5.2 0a2.6 2.6 0 1 0 -5.2 0M199.8 333.2a2.6 2.6 0 1 0 5.2 0a2.6 2.6 0 1 0 -5.2 0M199.9 338.0a2.6 2.6 0 1 0 5.2 0a2.6 2.6 0 1 0 -5.2 0M201.0 331.1a2.6 2.6 0 1 0 5.2 0a2.6 2.6 0 1 0 -5.2 0M201.6 339.7a2.6 2.6 0 1 0 5.2 0a2.6 2.6 0 1 0 -5.2 0M202.0 337.9a2.6 2.6 0 1 0 5.2 0a2.6 2.6 0 1 0 -5.2 0M202.8 331.1a2.6 2.6 0 1 0 5.2 0a2.6 2.6 0 1 0 -5.2 0M203.7 335.3a2.6 2.6 0 1 0 5.2 0a2.6 2.6 0 1 0 -5.2 0M204.4 336.3a2.6 2.6 0 1 0 5.2 0a2.6 2.6 0 1 0 -5.2 0M204.9 335.4a2.6 2.6 0 1 0 5.2 0a2.6 2.6 0 1 0 -5.2 0M206.2 339.8a2.6 2.6 0 1 0 5.2 0a2.6 2.6 0 1 0 -5.2 0M212.0 336.2a2.6 2.6 0 1 0 5.2 0a2.6 2.6 0 1 0 -5.2 0M213.0 333.3a2.6 2.6 0 1 0 5.2 0a2.6 2.6 0 1 0 -5.2 0M213.2 339.3a2.6 2.6 0 1 0 5.2 0a2.6 2.6 0 1 0 -5.2 0M214.2 335.3a2.6 2.6 0 1 0 5.2 0a2.6 2.6 0 1 0 -5.2 0M214.7 336.8a2.6 2.6 0 1 0 5.2 0a2.6 2.6 0 1 0 -5.2 0M215.1 344.4a2.6 2.6 0 1 0 5.2 0a2.6 2.6 0 1 0 -5.2 0M215.5 341.2a2.6 2.6 0 1 0 5.2 0a2.6 2.6 0 1 0 -5.2 0M216.5 342.5a2.6 2.6 0 1 0 5.2 0a2.6 2.6 0 1 0 -5.2 0M216.6 343.2a2.6 2.6 0 1 0 5.2 0a2.6 2.6 0 1 0 -5.2 0M217.5 337.1a2.6 2.6 0 1 0 5.2 0a2.6 2.6 0 1 0 -5.2 0M218.2 340.0a2.6 2.6 0 1 0 5.2 0a2.6 2.6 0 1 0 -5.2 0M218.7 338.5a2.6 2.6 0 1 0 5.2 0a2.6 2.6 0 1 0 -5.2 0M219.0 337.3a2.6 2.6 0 1 0 5.2 0a2.6 2.6 0 1 0 -5.2 0M219.8 340.3a2.6 2.6 0 1 0 5.2 0a2.6 2.6 0 1 0 -5.2 0M220.4 333.3a2.6 2.6 0 1 0 5.2 0a2.6 2.6 0 1 0 -5.2 0M220.8 333.3a2.6 2.6 0 1 0 5.2 0a2.6 2.6 0 1 0 -5.2 0M221.3 337.5a2.6 2.6 0 1 0 5.2 0a2.6 2.6 0 1 0 -5.2 0M222.0 335.3a2.6 2.6 0 1 0 5.2 0a2.6 2.6 0 1 0 -5.2 0M222.5 336.0a2.6 2.6 0 1 0 5.2 0a2.6 2.6 0 1 0 -5.2 0M223.3 333.5a2.6 2.6 0 1 0 5.2 0a2.6 2.6 0 1 0 -5.2 0M223.7 335.7a2.6 2.6 0 1 0 5.2 0a2.6 2.6 0 1 0 -5.2 0M224.3 339.6a2.6 2.6 0 1 0 5.2 0a2.6 2.6 0 1 0 -5.2 0M224.9 335.4a2.6 2.6 0 1 0 5.2 0a2.6 2.6 0 1 0 -5.2 0M225.4 338.4a2.6 2.6 0 1 0 5.2 0a2.6 2.6 0 1 0 -5.2 0M225.7 336.4a2.6 2.6 0 1 0 5.2 0a2.6 2.6 0 1 0 -5.2 0M248.6 339.0a2.6 2.6 0 1 0 5.2 0a2.6 2.6 0 1 0 -5.2 0M249.4 335.0a2.6 2.6 0 1 0 5.2 0a2.6 2.6 0 1 0 -5.2 0M249.6 327.4a2.6 2.6 0 1 0 5.2 0a2.6 2.6 0 1 0 -5.2 0M250.3 332.6a2.6 2.6 0 1 0 5.2 0a2.6 2.6 0 1 0 -5.2 0M250.7 337.2a2.6 2.6 0 1 0 5.2 0a2.6 2.6 0 1 0 -5.2 0M251.5 333.8a2.6 2.6 0 1 0 5.2 0a2.6 2.6 0 1 0 -5.2 0M252.2 341.5a2.6 2.6 0 1 0 5.2 0a2.6 2.6 0 1 0 -5.2 0M252.9 331.2a2.6 2.6 0 1 0 5.2 0a2.6 2.6 0 1 0 -5.2 0M253.5 328.3a2.6 2.6 0 1 0 5.2 0a2.6 2.6 0 1 0 -5.2 0M254.1 338.8a2.6 2.6 0 1 0 5.2 0a2.6 2.6 0 1 0 -5.2 0M254.5 334.2a2.6 2.6 0 1 0 5.2 0a2.6 2.6 0 1 0 -5.2 0M254.7 331.7a2.6 2.6 0 1 0 5.2 0a2.6 2.6 0 1 0 -5.2 0M255.7 326.0a2.6 2.6 0 1 0 5.2 0a2.6 2.6 0 1 0 -5.2 0M255.9 334.9a2.6 2.6 0 1 0 5.2 0a2.6 2.6 0 1 0 -5.2 0M256.9 333.4a2.6 2.6 0 1 0 5.2 0a2.6 2.6 0 1 0 -5.2 0M257.2 327.9a2.6 2.6 0 1 0 5.2 0a2.6 2.6 0 1 0 -5.2 0M257.9 334.5a2.6 2.6 0 1 0 5.2 0a2.6 2.6 0 1 0 -5.2 0M258.2 326.3a2.6 2.6 0 1 0 5.2 0a2.6 2.6 0 1 0 -5.2 0M259.0 326.8a2.6 2.6 0 1 0 5.2 0a2.6 2.6 0 1 0 -5.2 0M259.6 338.2a2.6 2.6 0 1 0 5.2 0a2.6 2.6 0 1 0 -5.2 0M260.0 329.2a2.6 2.6 0 1 0 5.2 0a2.6 2.6 0 1 0 -5.2 0M260.6 328.5a2.6 2.6 0 1 0 5.2 0a2.6 2.6 0 1 0 -5.2 0M261.2 327.8a2.6 2.6 0 1 0 5.2 0a2.6 2.6 0 1 0 -5.2 0M261.5 328.0a2.6 2.6 0 1 0 5.2 0a2.6 2.6 0 1 0 -5.2 0M262.3 329.1a2.6 2.6 0 1 0 5.2 0a2.6 2.6 0 1 0 -5.2 0M262.9 325.9a2.6 2.6 0 1 0 5.2 0a2.6 2.6 0 1 0 -5.2 0M263.2 332.8a2.6 2.6 0 1 0 5.2 0a2.6 2.6 0 1 0 -5.2 0M264.1 331.2a2.6 2.6 0 1 0 5.2 0a2.6 2.6 0 1 0 -5.2 0M264.7 325.6a2.6 2.6 0 1 0 5.2 0a2.6 2.6 0 1 0 -5.2 0M265.1 326.5a2.6 2.6 0 1 0 5.2 0a2.6 2.6 0 1 0 -5.2 0M265.5 332.4a2.6 2.6 0 1 0 5.2 0a2.6 2.6 0 1 0 -5.2 0M266.5 326.6a2.6 2.6 0 1 0 5.2 0a2.6 2.6 0 1 0 -5.2 0M267.1 328.8a2.6 2.6 0 1 0 5.2 0a2.6 2.6 0 1 0 -5.2 0M267.4 325.2a2.6 2.6 0 1 0 5.2 0a2.6 2.6 0 1 0 -5.2 0M268.2 324.1a2.6 2.6 0 1 0 5.2 0a2.6 2.6 0 1 0 -5.2 0M268.6 331.1a2.6 2.6 0 1 0 5.2 0a2.6 2.6 0 1 0 -5.2 0M268.9 321.4a2.6 2.6 0 1 0 5.2 0a2.6 2.6 0 1 0 -5.2 0M269.6 325.9a2.6 2.6 0 1 0 5.2 0a2.6 2.6 0 1 0 -5.2 0M270.5 331.2a2.6 2.6 0 1 0 5.2 0a2.6 2.6 0 1 0 -5.2 0M270.7 324.8a2.6 2.6 0 1 0 5.2 0a2.6 2.6 0 1 0 -5.2 0M271.6 324.1a2.6 2.6 0 1 0 5.2 0a2.6 2.6 0 1 0 -5.2 0M272.3 333.2a2.6 2.6 0 1 0 5.2 0a2.6 2.6 0 1 0 -5.2 0M272.8 328.9a2.6 2.6 0 1 0 5.2 0a2.6 2.6 0 1 0 -5.2 0M273.3 328.2a2.6 2.6 0 1 0 5.2 0a2.6 2.6 0 1 0 -5.2 0M274.0 329.0a2.6 2.6 0 1 0 5.2 0a2.6 2.6 0 1 0 -5.2 0M274.6 323.9a2.6 2.6 0 1 0 5.2 0a2.6 2.6 0 1 0 -5.2 0M274.8 325.3a2.6 2.6 0 1 0 5.2 0a2.6 2.6 0 1 0 -5.2 0M275.5 332.5a2.6 2.6 0 1 0 5.2 0a2.6 2.6 0 1 0 -5.2 0M276.2 320.1a2.6 2.6 0 1 0 5.2 0a2.6 2.6 0 1 0 -5.2 0M276.7 325.1a2.6 2.6 0 1 0 5.2 0a2.6 2.6 0 1 0 -5.2 0M277.2 319.9a2.6 2.6 0 1 0 5.2 0a2.6 2.6 0 1 0 -5.2 0M277.8 329.7a2.6 2.6 0 1 0 5.2 0a2.6 2.6 0 1 0 -5.2 0M278.6 323.0a2.6 2.6 0 1 0 5.2 0a2.6 2.6 0 1 0 -5.2 0M279.0 328.2a2.6 2.6 0 1 0 5.2 0a2.6 2.6 0 1 0 -5.2 0M279.2 318.6a2.6 2.6 0 1 0 5.2 0a2.6 2.6 0 1 0 -5.2 0M280.0 328.5a2.6 2.6 0 1 0 5.2 0a2.6 2.6 0 1 0 -5.2 0M280.8 321.2a2.6 2.6 0 1 0 5.2 0a2.6 2.6 0 1 0 -5.2 0M280.9 321.3a2.6 2.6 0 1 0 5.2 0a2.6 2.6 0 1 0 -5.2 0M281.6 325.0a2.6 2.6 0 1 0 5.2 0a2.6 2.6 0 1 0 -5.2 0M282.3 319.9a2.6 2.6 0 1 0 5.2 0a2.6 2.6 0 1 0 -5.2 0M282.9 323.8a2.6 2.6 0 1 0 5.2 0a2.6 2.6 0 1 0 -5.2 0M283.5 319.3a2.6 2.6 0 1 0 5.2 0a2.6 2.6 0 1 0 -5.2 0M284.2 322.1a2.6 2.6 0 1 0 5.2 0a2.6 2.6 0 1 0 -5.2 0M284.5 328.9a2.6 2.6 0 1 0 5.2 0a2.6 2.6 0 1 0 -5.2 0M285.3 323.4a2.6 2.6 0 1 0 5.2 0a2.6 2.6 0 1 0 -5.2 0M291.0 312.3a2.6 2.6 0 1 0 5.2 0a2.6 2.6 0 1 0 -5.2 0M292.0 323.0a2.6 2.6 0 1 0 5.2 0a2.6 2.6 0 1 0 -5.2 0M292.7 315.5a2.6 2.6 0 1 0 5.2 0a2.6 2.6 0 1 0 -5.2 0M293.8 315.2a2.6 2.6 0 1 0 5.2 0a2.6 2.6 0 1 0 -5.2 0M294.4 317.8a2.6 2.6 0 1 0 5.2 0a2.6 2.6 0 1 0 -5.2 0M294.7 310.1a2.6 2.6 0 1 0 5.2 0a2.6 2.6 0 1 0 -5.2 0M295.6 307.8a2.6 2.6 0 1 0 5.2 0a2.6 2.6 0 1 0 -5.2 0M296.4 306.9a2.6 2.6 0 1 0 5.2 0a2.6 2.6 0 1 0 -5.2 0M297.7 308.2a2.6 2.6 0 1 0 5.2 0a2.6 2.6 0 1 0 -5.2 0M297.8 313.0a2.6 2.6 0 1 0 5.2 0a2.6 2.6 0 1 0 -5.2 0M299.1 311.9a2.6 2.6 0 1 0 5.2 0a2.6 2.6 0 1 0 -5.2 0M299.7 306.2a2.6 2.6 0 1 0 5.2 0a2.6 2.6 0 1 0 -5.2 0M300.1 309.0a2.6 2.6 0 1 0 5.2 0a2.6 2.6 0 1 0 -5.2 0M300.9 302.8a2.6 2.6 0 1 0 5.2 0a2.6 2.6 0 1 0 -5.2 0M302.1 300.2a2.6 2.6 0 1 0 5.2 0a2.6 2.6 0 1 0 -5.2 0M302.9 299.4a2.6 2.6 0 1 0 5.2 0a2.6 2.6 0 1 0 -5.2 0M303.6 305.2a2.6 2.6 0 1 0 5.2 0a2.6 2.6 0 1 0 -5.2 0M304.6 304.9a2.6 2.6 0 1 0 5.2 0a2.6 2.6 0 1 0 -5.2 0M305.0 300.3a2.6 2.6 0 1 0 5.2 0a2.6 2.6 0 1 0 -5.2 0M305.5 296.8a2.6 2.6 0 1 0 5.2 0a2.6 2.6 0 1 0 -5.2 0M306.5 295.4a2.6 2.6 0 1 0 5.2 0a2.6 2.6 0 1 0 -5.2 0M307.6 290.7a2.6 2.6 0 1 0 5.2 0a2.6 2.6 0 1 0 -5.2 0M308.1 290.4a2.6 2.6 0 1 0 5.2 0a2.6 2.6 0 1 0 -5.2 0M316.6 269.5a2.6 2.6 0 1 0 5.2 0a2.6 2.6 0 1 0 -5.2 0M316.2 273.5a2.6 2.6 0 1 0 5.2 0a2.6 2.6 0 1 0 -5.2 0M316.9 276.5a2.6 2.6 0 1 0 5.2 0a2.6 2.6 0 1 0 -5.2 0M311.4 279.0a2.6 2.6 0 1 0 5.2 0a2.6 2.6 0 1 0 -5.2 0M310.9 281.0a2.6 2.6 0 1 0 5.2 0a2.6 2.6 0 1 0 -5.2 0M319.6 256.5a2.6 2.6 0 1 0 5.2 0a2.6 2.6 0 1 0 -5.2 0M323.2 238.2a2.6 2.6 0 1 0 5.2 0a2.6 2.6 0 1 0 -5.2 0M323.7 234.0a2.6 2.6 0 1 0 5.2 0a2.6 2.6 0 1 0 -5.2 0M324.3 231.5a2.6 2.6 0 1 0 5.2 0a2.6 2.6 0 1 0 -5.2 0M323.6 235.0a2.6 2.6 0 1 0 5.2 0a2.6 2.6 0 1 0 -5.2 0M322.7 240.5a2.6 2.6 0 1 0 5.2 0a2.6 2.6 0 1 0 -5.2 0M324.0 237.3a2.6 2.6 0 1 0 5.2 0a2.6 2.6 0 1 0 -5.2 0M324.7 232.8a2.6 2.6 0 1 0 5.2 0a2.6 2.6 0 1 0 -5.2 0M323.8 235.3a2.6 2.6 0 1 0 5.2 0a2.6 2.6 0 1 0 -5.2 0M323.5 231.4a2.6 2.6 0 1 0 5.2 0a2.6 2.6 0 1 0 -5.2 0M323.9 234.5a2.6 2.6 0 1 0 5.2 0a2.6 2.6 0 1 0 -5.2 0M323.3 238.1a2.6 2.6 0 1 0 5.2 0a2.6 2.6 0 1 0 -5.2 0M323.1 239.8a2.6 2.6 0 1 0 5.2 0a2.6 2.6 0 1 0 -5.2 0M323.2 239.5a2.6 2.6 0 1 0 5.2 0a2.6 2.6 0 1 0 -5.2 0M324.1 235.5a2.6 2.6 0 1 0 5.2 0a2.6 2.6 0 1 0 -5.2 0M327.7 210.4a2.6 2.6 0 1 0 5.2 0a2.6 2.6 0 1 0 -5.2 0M327.7 205.4a2.6 2.6 0 1 0 5.2 0a2.6 2.6 0 1 0 -5.2 0M327.9 200.3a2.6 2.6 0 1 0 5.2 0a2.6 2.6 0 1 0 -5.2 0M328.0 201.3a2.6 2.6 0 1 0 5.2 0a2.6 2.6 0 1 0 -5.2 0M328.4 202.2a2.6 2.6 0 1 0 5.2 0a2.6 2.6 0 1 0 -5.2 0M326.9 207.1a2.6 2.6 0 1 0 5.2 0a2.6 2.6 0 1 0 -5.2 0M328.4 199.6a2.6 2.6 0 1 0 5.2 0a2.6 2.6 0 1 0 -5.2 0M327.7 206.6a2.6 2.6 0 1 0 5.2 0a2.6 2.6 0 1 0 -5.2 0M327.7 204.8a2.6 2.6 0 1 0 5.2 0a2.6 2.6 0 1 0 -5.2 0M326.9 207.5a2.6 2.6 0 1 0 5.2 0a2.6 2.6 0 1 0 -5.2 0M328.1 200.2a2.6 2.6 0 1 0 5.2 0a2.6 2.6 0 1 0 -5.2 0M327.7 205.6a2.6 2.6 0 1 0 5.2 0a2.6 2.6 0 1 0 -5.2 0M327.5 203.8a2.6 2.6 0 1 0 5.2 0a2.6 2.6 0 1 0 -5.2 0M326.7 206.0a2.6 2.6 0 1 0 5.2 0a2.6 2.6 0 1 0 -5.2 0M328.3 202.3a2.6 2.6 0 1 0 5.2 0a2.6 2.6 0 1 0 -5.2 0M328.4 205.1a2.6 2.6 0 1 0 5.2 0a2.6 2.6 0 1 0 -5.2 0M330.9 159.4a2.6 2.6 0 1 0 5.2 0a2.6 2.6 0 1 0 -5.2 0M332.9 147.6a2.6 2.6 0 1 0 5.2 0a2.6 2.6 0 1 0 -5.2 0M331.3 160.1a2.6 2.6 0 1 0 5.2 0a2.6 2.6 0 1 0 -5.2 0M332.7 145.7a2.6 2.6 0 1 0 5.2 0a2.6 2.6 0 1 0 -5.2 0M331.2 159.4a2.6 2.6 0 1 0 5.2 0a2.6 2.6 0 1 0 -5.2 0M330.5 159.5a2.6 2.6 0 1 0 5.2 0a2.6 2.6 0 1 0 -5.2 0M331.6 154.8a2.6 2.6 0 1 0 5.2 0a2.6 2.6 0 1 0 -5.2 0M332.1 148.4a2.6 2.6 0 1 0 5.2 0a2.6 2.6 0 1 0 -5.2 0M331.4 153.4a2.6 2.6 0 1 0 5.2 0a2.6 2.6 0 1 0 -5.2 0M331.4 153.1a2.6 2.6 0 1 0 5.2 0a2.6 2.6 0 1 0 -5.2 0M331.6 157.2a2.6 2.6 0 1 0 5.2 0a2.6 2.6 0 1 0 -5.2 0M331.8 146.3a2.6 2.6 0 1 0 5.2 0a2.6 2.6 0 1 0 -5.2 0M330.2 160.1a2.6 2.6 0 1 0 5.2 0a2.6 2.6 0 1 0 -5.2 0M332.4 146.7a2.6 2.6 0 1 0 5.2 0a2.6 2.6 0 1 0 -5.2 0M331.4 157.3a2.6 2.6 0 1 0 5.2 0a2.6 2.6 0 1 0 -5.2 0M332.6 145.7a2.6 2.6 0 1 0 5.2 0a2.6 2.6 0 1 0 -5.2 0M332.3 150.0a2.6 2.6 0 1 0 5.2 0a2.6 2.6 0 1 0 -5.2 0M332.0 149.8a2.6 2.6 0 1 0 5.2 0a2.6 2.6 0 1 0 -5.2 0M332.0 155.6a2.6 2.6 0 1 0 5.2 0a2.6 2.6 0 1 0 -5.2 0M331.1 159.3a2.6 2.6 0 1 0 5.2 0a2.6 2.6 0 1 0 -5.2 0M332.0 152.3a2.6 2.6 0 1 0 5.2 0a2.6 2.6 0 1 0 -5.2 0M330.7 156.8a2.6 2.6 0 1 0 5.2 0a2.6 2.6 0 1 0 -5.2 0M335.6 118.1a2.6 2.6 0 1 0 5.2 0a2.6 2.6 0 1 0 -5.2 0M335.0 118.3a2.6 2.6 0 1 0 5.2 0a2.6 2.6 0 1 0 -5.2 0M335.7 117.1a2.6 2.6 0 1 0 5.2 0a2.6 2.6 0 1 0 -5.2 0M335.5 117.4a2.6 2.6 0 1 0 5.2 0a2.6 2.6 0 1 0 -5.2 0M335.5 117.0a2.6 2.6 0 1 0 5.2 0a2.6 2.6 0 1 0 -5.2 0M335.7 118.2a2.6 2.6 0 1 0 5.2 0a2.6 2.6 0 1 0 -5.2 0M355.6 281.0a2.6 2.6 0 1 0 5.2 0a2.6 2.6 0 1 0 -5.2 0M356.0 285.5a2.6 2.6 0 1 0 5.2 0a2.6 2.6 0 1 0 -5.2 0M355.4 290.5a2.6 2.6 0 1 0 5.2 0a2.6 2.6 0 1 0 -5.2 0M357.9 288.0a2.6 2.6 0 1 0 5.2 0a2.6 2.6 0 1 0 -5.2 0M357.5 291.5a2.6 2.6 0 1 0 5.2 0a2.6 2.6 0 1 0 -5.2 0M358.2 290.1a2.6 2.6 0 1 0 5.2 0a2.6 2.6 0 1 0 -5.2 0M358.8 288.5a2.6 2.6 0 1 0 5.2 0a2.6 2.6 0 1 0 -5.2 0M359.2 289.6a2.6 2.6 0 1 0 5.2 0a2.6 2.6 0 1 0 -5.2 0M359.7 294.9a2.6 2.6 0 1 0 5.2 0a2.6 2.6 0 1 0 -5.2 0M360.1 296.8a2.6 2.6 0 1 0 5.2 0a2.6 2.6 0 1 0 -5.2 0M360.9 296.6a2.6 2.6 0 1 0 5.2 0a2.6 2.6 0 1 0 -5.2 0M361.6 297.5a2.6 2.6 0 1 0 5.2 0a2.6 2.6 0 1 0 -5.2 0M362.0 295.4a2.6 2.6 0 1 0 5.2 0a2.6 2.6 0 1 0 -5.2 0M362.2 299.5a2.6 2.6 0 1 0 5.2 0a2.6 2.6 0 1 0 -5.2 0M363.0 298.6a2.6 2.6 0 1 0 5.2 0a2.6 2.6 0 1 0 -5.2 0M363.3 295.4a2.6 2.6 0 1 0 5.2 0a2.6 2.6 0 1 0 -5.2 0M364.0 301.9a2.6 2.6 0 1 0 5.2 0a2.6 2.6 0 1 0 -5.2 0M364.3 297.7a2.6 2.6 0 1 0 5.2 0a2.6 2.6 0 1 0 -5.2 0M365.1 301.9a2.6 2.6 0 1 0 5.2 0a2.6 2.6 0 1 0 -5.2 0M365.6 300.8a2.6 2.6 0 1 0 5.2 0a2.6 2.6 0 1 0 -5.2 0M366.0 304.3a2.6 2.6 0 1 0 5.2 0a2.6 2.6 0 1 0 -5.2 0M366.6 306.6a2.6 2.6 0 1 0 5.2 0a2.6 2.6 0 1 0 -5.2 0M366.9 306.9a2.6 2.6 0 1 0 5.2 0a2.6 2.6 0 1 0 -5.2 0M367.7 304.4a2.6 2.6 0 1 0 5.2 0a2.6 2.6 0 1 0 -5.2 0M368.2 306.5a2.6 2.6 0 1 0 5.2 0a2.6 2.6 0 1 0 -5.2 0M368.8 303.0a2.6 2.6 0 1 0 5.2 0a2.6 2.6 0 1 0 -5.2 0M369.1 303.0a2.6 2.6 0 1 0 5.2 0a2.6 2.6 0 1 0 -5.2 0M369.5 310.6a2.6 2.6 0 1 0 5.2 0a2.6 2.6 0 1 0 -5.2 0M370.3 304.7a2.6 2.6 0 1 0 5.2 0a2.6 2.6 0 1 0 -5.2 0M370.9 307.3a2.6 2.6 0 1 0 5.2 0a2.6 2.6 0 1 0 -5.2 0M371.4 311.4a2.6 2.6 0 1 0 5.2 0a2.6 2.6 0 1 0 -5.2 0M371.8 307.4a2.6 2.6 0 1 0 5.2 0a2.6 2.6 0 1 0 -5.2 0M372.3 310.2a2.6 2.6 0 1 0 5.2 0a2.6 2.6 0 1 0 -5.2 0M372.8 304.3a2.6 2.6 0 1 0 5.2 0a2.6 2.6 0 1 0 -5.2 0M373.5 315.3a2.6 2.6 0 1 0 5.2 0a2.6 2.6 0 1 0 -5.2 0M373.8 314.6a2.6 2.6 0 1 0 5.2 0a2.6 2.6 0 1 0 -5.2 0M374.6 313.1a2.6 2.6 0 1 0 5.2 0a2.6 2.6 0 1 0 -5.2 0M374.7 318.4a2.6 2.6 0 1 0 5.2 0a2.6 2.6 0 1 0 -5.2 0M375.5 311.3a2.6 2.6 0 1 0 5.2 0a2.6 2.6 0 1 0 -5.2 0M375.9 313.9a2.6 2.6 0 1 0 5.2 0a2.6 2.6 0 1 0 -5.2 0M376.6 320.3a2.6 2.6 0 1 0 5.2 0a2.6 2.6 0 1 0 -5.2 0M377.1 320.6a2.6 2.6 0 1 0 5.2 0a2.6 2.6 0 1 0 -5.2 0M377.3 308.6a2.6 2.6 0 1 0 5.2 0a2.6 2.6 0 1 0 -5.2 0M378.2 321.7a2.6 2.6 0 1 0 5.2 0a2.6 2.6 0 1 0 -5.2 0M378.7 314.0a2.6 2.6 0 1 0 5.2 0a2.6 2.6 0 1 0 -5.2 0M379.2 315.3a2.6 2.6 0 1 0 5.2 0a2.6 2.6 0 1 0 -5.2 0M379.9 318.3a2.6 2.6 0 1 0 5.2 0a2.6 2.6 0 1 0 -5.2 0M380.2 314.6a2.6 2.6 0 1 0 5.2 0a2.6 2.6 0 1 0 -5.2 0M380.5 321.7a2.6 2.6 0 1 0 5.2 0a2.6 2.6 0 1 0 -5.2 0M381.0 316.0a2.6 2.6 0 1 0 5.2 0a2.6 2.6 0 1 0 -5.2 0M381.8 313.8a2.6 2.6 0 1 0 5.2 0a2.6 2.6 0 1 0 -5.2 0M382.3 314.0a2.6 2.6 0 1 0 5.2 0a2.6 2.6 0 1 0 -5.2 0M382.6 317.8a2.6 2.6 0 1 0 5.2 0a2.6 2.6 0 1 0 -5.2 0M383.1 318.4a2.6 2.6 0 1 0 5.2 0a2.6 2.6 0 1 0 -5.2 0M383.7 324.1a2.6 2.6 0 1 0 5.2 0a2.6 2.6 0 1 0 -5.2 0M384.2 320.6a2.6 2.6 0 1 0 5.2 0a2.6 2.6 0 1 0 -5.2 0M385.0 319.7a2.6 2.6 0 1 0 5.2 0a2.6 2.6 0 1 0 -5.2 0M385.5 321.7a2.6 2.6 0 1 0 5.2 0a2.6 2.6 0 1 0 -5.2 0M386.1 323.9a2.6 2.6 0 1 0 5.2 0a2.6 2.6 0 1 0 -5.2 0M386.2 317.3a2.6 2.6 0 1 0 5.2 0a2.6 2.6 0 1 0 -5.2 0M387.1 323.5a2.6 2.6 0 1 0 5.2 0a2.6 2.6 0 1 0 -5.2 0M387.5 327.1a2.6 2.6 0 1 0 5.2 0a2.6 2.6 0 1 0 -5.2 0M387.8 326.6a2.6 2.6 0 1 0 5.2 0a2.6 2.6 0 1 0 -5.2 0M388.4 330.2a2.6 2.6 0 1 0 5.2 0a2.6 2.6 0 1 0 -5.2 0M389.2 324.8a2.6 2.6 0 1 0 5.2 0a2.6 2.6 0 1 0 -5.2 0M389.7 323.3a2.6 2.6 0 1 0 5.2 0a2.6 2.6 0 1 0 -5.2 0M389.9 319.3a2.6 2.6 0 1 0 5.2 0a2.6 2.6 0 1 0 -5.2 0M390.7 331.6a2.6 2.6 0 1 0 5.2 0a2.6 2.6 0 1 0 -5.2 0M391.0 332.4a2.6 2.6 0 1 0 5.2 0a2.6 2.6 0 1 0 -5.2 0M391.7 332.5a2.6 2.6 0 1 0 5.2 0a2.6 2.6 0 1 0 -5.2 0M392.2 328.5a2.6 2.6 0 1 0 5.2 0a2.6 2.6 0 1 0 -5.2 0M392.6 334.6a2.6 2.6 0 1 0 5.2 0a2.6 2.6 0 1 0 -5.2 0M393.1 333.1a2.6 2.6 0 1 0 5.2 0a2.6 2.6 0 1 0 -5.2 0M393.5 333.2a2.6 2.6 0 1 0 5.2 0a2.6 2.6 0 1 0 -5.2 0M394.1 327.3a2.6 2.6 0 1 0 5.2 0a2.6 2.6 0 1 0 -5.2 0M394.6 329.2a2.6 2.6 0 1 0 5.2 0a2.6 2.6 0 1 0 -5.2 0M395.0 338.6a2.6 2.6 0 1 0 5.2 0a2.6 2.6 0 1 0 -5.2 0M395.8 327.2a2.6 2.6 0 1 0 5.2 0a2.6 2.6 0 1 0 -5.2 0M396.2 333.5a2.6 2.6 0 1 0 5.2 0a2.6 2.6 0 1 0 -5.2 0M396.7 323.2a2.6 2.6 0 1 0 5.2 0a2.6 2.6 0 1 0 -5.2 0M397.4 323.3a2.6 2.6 0 1 0 5.2 0a2.6 2.6 0 1 0 -5.2 0M397.8 324.9a2.6 2.6 0 1 0 5.2 0a2.6 2.6 0 1 0 -5.2 0M398.4 328.3a2.6 2.6 0 1 0 5.2 0a2.6 2.6 0 1 0 -5.2 0M398.9 328.1a2.6 2.6 0 1 0 5.2 0a2.6 2.6 0 1 0 -5.2 0M399.6 330.8a2.6 2.6 0 1 0 5.2 0a2.6 2.6 0 1 0 -5.2 0M399.8 329.8a2.6 2.6 0 1 0 5.2 0a2.6 2.6 0 1 0 -5.2 0M400.7 331.6a2.6 2.6 0 1 0 5.2 0a2.6 2.6 0 1 0 -5.2 0M401.3 334.4a2.6 2.6 0 1 0 5.2 0a2.6 2.6 0 1 0 -5.2 0M401.3 329.2a2.6 2.6 0 1 0 5.2 0a2.6 2.6 0 1 0 -5.2 0M402.3 338.7a2.6 2.6 0 1 0 5.2 0a2.6 2.6 0 1 0 -5.2 0M402.4 339.7a2.6 2.6 0 1 0 5.2 0a2.6 2.6 0 1 0 -5.2 0M403.4 336.0a2.6 2.6 0 1 0 5.2 0a2.6 2.6 0 1 0 -5.2 0M403.5 328.5a2.6 2.6 0 1 0 5.2 0a2.6 2.6 0 1 0 -5.2 0M404.0 332.2a2.6 2.6 0 1 0 5.2 0a2.6 2.6 0 1 0 -5.2 0M404.8 338.6a2.6 2.6 0 1 0 5.2 0a2.6 2.6 0 1 0 -5.2 0M405.4 330.0a2.6 2.6 0 1 0 5.2 0a2.6 2.6 0 1 0 -5.2 0M405.7 335.9a2.6 2.6 0 1 0 5.2 0a2.6 2.6 0 1 0 -5.2 0M406.4 336.1a2.6 2.6 0 1 0 5.2 0a2.6 2.6 0 1 0 -5.2 0M406.7 331.1a2.6 2.6 0 1 0 5.2 0a2.6 2.6 0 1 0 -5.2 0M407.5 327.5a2.6 2.6 0 1 0 5.2 0a2.6 2.6 0 1 0 -5.2 0M408.0 333.7a2.6 2.6 0 1 0 5.2 0a2.6 2.6 0 1 0 -5.2 0M408.5 330.3a2.6 2.6 0 1 0 5.2 0a2.6 2.6 0 1 0 -5.2 0M409.0 339.1a2.6 2.6 0 1 0 5.2 0a2.6 2.6 0 1 0 -5.2 0M409.7 337.8a2.6 2.6 0 1 0 5.2 0a2.6 2.6 0 1 0 -5.2 0M410.1 336.1a2.6 2.6 0 1 0 5.2 0a2.6 2.6 0 1 0 -5.2 0M410.6 329.2a2.6 2.6 0 1 0 5.2 0a2.6 2.6 0 1 0 -5.2 0M410.9 334.1a2.6 2.6 0 1 0 5.2 0a2.6 2.6 0 1 0 -5.2 0M411.3 329.9a2.6 2.6 0 1 0 5.2 0a2.6 2.6 0 1 0 -5.2 0M412.2 334.5a2.6 2.6 0 1 0 5.2 0a2.6 2.6 0 1 0 -5.2 0M412.4 335.7a2.6 2.6 0 1 0 5.2 0a2.6 2.6 0 1 0 -5.2 0M412.9 333.5a2.6 2.6 0 1 0 5.2 0a2.6 2.6 0 1 0 -5.2 0M413.6 330.1a2.6 2.6 0 1 0 5.2 0a2.6 2.6 0 1 0 -5.2 0M414.2 329.3a2.6 2.6 0 1 0 5.2 0a2.6 2.6 0 1 0 -5.2 0M414.4 334.4a2.6 2.6 0 1 0 5.2 0a2.6 2.6 0 1 0 -5.2 0M422.8 344.5a2.6 2.6 0 1 0 5.2 0a2.6 2.6 0 1 0 -5.2 0M423.3 339.8a2.6 2.6 0 1 0 5.2 0a2.6 2.6 0 1 0 -5.2 0M423.8 337.5a2.6 2.6 0 1 0 5.2 0a2.6 2.6 0 1 0 -5.2 0M424.2 333.9a2.6 2.6 0 1 0 5.2 0a2.6 2.6 0 1 0 -5.2 0M424.4 342.0a2.6 2.6 0 1 0 5.2 0a2.6 2.6 0 1 0 -5.2 0M424.8 335.9a2.6 2.6 0 1 0 5.2 0a2.6 2.6 0 1 0 -5.2 0M425.4 338.1a2.6 2.6 0 1 0 5.2 0a2.6 2.6 0 1 0 -5.2 0M425.9 345.0a2.6 2.6 0 1 0 5.2 0a2.6 2.6 0 1 0 -5.2 0M426.6 341.4a2.6 2.6 0 1 0 5.2 0a2.6 2.6 0 1 0 -5.2 0M426.9 344.1a2.6 2.6 0 1 0 5.2 0a2.6 2.6 0 1 0 -5.2 0M427.5 336.2a2.6 2.6 0 1 0 5.2 0a2.6 2.6 0 1 0 -5.2 0M427.6 336.2a2.6 2.6 0 1 0 5.2 0a2.6 2.6 0 1 0 -5.2 0M428.1 346.7a2.6 2.6 0 1 0 5.2 0a2.6 2.6 0 1 0 -5.2 0M429.0 337.1a2.6 2.6 0 1 0 5.2 0a2.6 2.6 0 1 0 -5.2 0M429.1 337.9a2.6 2.6 0 1 0 5.2 0a2.6 2.6 0 1 0 -5.2 0M429.5 344.0a2.6 2.6 0 1 0 5.2 0a2.6 2.6 0 1 0 -5.2 0M430.3 340.4a2.6 2.6 0 1 0 5.2 0a2.6 2.6 0 1 0 -5.2 0M430.4 341.0a2.6 2.6 0 1 0 5.2 0a2.6 2.6 0 1 0 -5.2 0M430.9 334.5a2.6 2.6 0 1 0 5.2 0a2.6 2.6 0 1 0 -5.2 0M431.5 348.7a2.6 2.6 0 1 0 5.2 0a2.6 2.6 0 1 0 -5.2 0M432.0 336.7a2.6 2.6 0 1 0 5.2 0a2.6 2.6 0 1 0 -5.2 0M432.6 348.3a2.6 2.6 0 1 0 5.2 0a2.6 2.6 0 1 0 -5.2 0M432.9 336.1a2.6 2.6 0 1 0 5.2 0a2.6 2.6 0 1 0 -5.2 0M433.3 341.5a2.6 2.6 0 1 0 5.2 0a2.6 2.6 0 1 0 -5.2 0M434.0 351.9a2.6 2.6 0 1 0 5.2 0a2.6 2.6 0 1 0 -5.2 0M434.2 348.8a2.6 2.6 0 1 0 5.2 0a2.6 2.6 0 1 0 -5.2 0M434.7 347.8a2.6 2.6 0 1 0 5.2 0a2.6 2.6 0 1 0 -5.2 0M435.6 346.3a2.6 2.6 0 1 0 5.2 0a2.6 2.6 0 1 0 -5.2 0M435.9 348.0a2.6 2.6 0 1 0 5.2 0a2.6 2.6 0 1 0 -5.2 0M436.4 348.2a2.6 2.6 0 1 0 5.2 0a2.6 2.6 0 1 0 -5.2 0M436.8 347.5a2.6 2.6 0 1 0 5.2 0a2.6 2.6 0 1 0 -5.2 0M437.0 336.0a2.6 2.6 0 1 0 5.2 0a2.6 2.6 0 1 0 -5.2 0M437.7 338.6a2.6 2.6 0 1 0 5.2 0a2.6 2.6 0 1 0 -5.2 0M438.2 340.6a2.6 2.6 0 1 0 5.2 0a2.6 2.6 0 1 0 -5.2 0M438.7 351.6a2.6 2.6 0 1 0 5.2 0a2.6 2.6 0 1 0 -5.2 0M439.0 339.5a2.6 2.6 0 1 0 5.2 0a2.6 2.6 0 1 0 -5.2 0M439.7 344.5a2.6 2.6 0 1 0 5.2 0a2.6 2.6 0 1 0 -5.2 0M440.0 345.8a2.6 2.6 0 1 0 5.2 0a2.6 2.6 0 1 0 -5.2 0M440.5 338.0a2.6 2.6 0 1 0 5.2 0a2.6 2.6 0 1 0 -5.2 0M441.1 348.1a2.6 2.6 0 1 0 5.2 0a2.6 2.6 0 1 0 -5.2 0M441.3 350.2a2.6 2.6 0 1 0 5.2 0a2.6 2.6 0 1 0 -5.2 0M441.7 341.6a2.6 2.6 0 1 0 5.2 0a2.6 2.6 0 1 0 -5.2 0M442.3 346.4a2.6 2.6 0 1 0 5.2 0a2.6 2.6 0 1 0 -5.2 0M443.0 339.8a2.6 2.6 0 1 0 5.2 0a2.6 2.6 0 1 0 -5.2 0M464.9 343.0a2.6 2.6 0 1 0 5.2 0a2.6 2.6 0 1 0 -5.2 0M465.2 351.7a2.6 2.6 0 1 0 5.2 0a2.6 2.6 0 1 0 -5.2 0M465.4 339.1a2.6 2.6 0 1 0 5.2 0a2.6 2.6 0 1 0 -5.2 0M466.4 348.6a2.6 2.6 0 1 0 5.2 0a2.6 2.6 0 1 0 -5.2 0M466.7 340.8a2.6 2.6 0 1 0 5.2 0a2.6 2.6 0 1 0 -5.2 0M467.5 341.0a2.6 2.6 0 1 0 5.2 0a2.6 2.6 0 1 0 -5.2 0M467.6 336.7a2.6 2.6 0 1 0 5.2 0a2.6 2.6 0 1 0 -5.2 0M468.0 349.0a2.6 2.6 0 1 0 5.2 0a2.6 2.6 0 1 0 -5.2 0M468.8 334.3a2.6 2.6 0 1 0 5.2 0a2.6 2.6 0 1 0 -5.2 0M469.1 338.5a2.6 2.6 0 1 0 5.2 0a2.6 2.6 0 1 0 -5.2 0M469.6 347.5a2.6 2.6 0 1 0 5.2 0a2.6 2.6 0 1 0 -5.2 0M470.2 352.2a2.6 2.6 0 1 0 5.2 0a2.6 2.6 0 1 0 -5.2 0M470.9 347.6a2.6 2.6 0 1 0 5.2 0a2.6 2.6 0 1 0 -5.2 0M471.4 344.8a2.6 2.6 0 1 0 5.2 0a2.6 2.6 0 1 0 -5.2 0M471.7 347.4a2.6 2.6 0 1 0 5.2 0a2.6 2.6 0 1 0 -5.2 0M472.5 336.0a2.6 2.6 0 1 0 5.2 0a2.6 2.6 0 1 0 -5.2 0M472.7 342.5a2.6 2.6 0 1 0 5.2 0a2.6 2.6 0 1 0 -5.2 0M473.6 350.6a2.6 2.6 0 1 0 5.2 0a2.6 2.6 0 1 0 -5.2 0M473.8 348.9a2.6 2.6 0 1 0 5.2 0a2.6 2.6 0 1 0 -5.2 0M474.2 346.2a2.6 2.6 0 1 0 5.2 0a2.6 2.6 0 1 0 -5.2 0M474.9 338.7a2.6 2.6 0 1 0 5.2 0a2.6 2.6 0 1 0 -5.2 0M475.2 342.9a2.6 2.6 0 1 0 5.2 0a2.6 2.6 0 1 0 -5.2 0M476.0 338.8a2.6 2.6 0 1 0 5.2 0a2.6 2.6 0 1 0 -5.2 0M476.6 341.7a2.6 2.6 0 1 0 5.2 0a2.6 2.6 0 1 0 -5.2 0M476.7 340.4a2.6 2.6 0 1 0 5.2 0a2.6 2.6 0 1 0 -5.2 0M477.6 341.6a2.6 2.6 0 1 0 5.2 0a2.6 2.6 0 1 0 -5.2 0M477.7 344.7a2.6 2.6 0 1 0 5.2 0a2.6 2.6 0 1 0 -5.2 0M478.2 352.0a2.6 2.6 0 1 0 5.2 0a2.6 2.6 0 1 0 -5.2 0M479.1 343.0a2.6 2.6 0 1 0 5.2 0a2.6 2.6 0 1 0 -5.2 0M479.2 344.9a2.6 2.6 0 1 0 5.2 0a2.6 2.6 0 1 0 -5.2 0M479.7 345.0a2.6 2.6 0 1 0 5.2 0a2.6 2.6 0 1 0 -5.2 0M480.3 338.9a2.6 2.6 0 1 0 5.2 0a2.6 2.6 0 1 0 -5.2 0M481.2 348.7a2.6 2.6 0 1 0 5.2 0a2.6 2.6 0 1 0 -5.2 0M481.5 346.7a2.6 2.6 0 1 0 5.2 0a2.6 2.6 0 1 0 -5.2 0M481.8 336.8a2.6 2.6 0 1 0 5.2 0a2.6 2.6 0 1 0 -5.2 0M482.6 341.8a2.6 2.6 0 1 0 5.2 0a2.6 2.6 0 1 0 -5.2 0M483.2 345.5a2.6 2.6 0 1 0 5.2 0a2.6 2.6 0 1 0 -5.2 0M483.7 338.2a2.6 2.6 0 1 0 5.2 0a2.6 2.6 0 1 0 -5.2 0M483.9 344.4a2.6 2.6 0 1 0 5.2 0a2.6 2.6 0 1 0 -5.2 0M484.7 347.8a2.6 2.6 0 1 0 5.2 0a2.6 2.6 0 1 0 -5.2 0M485.1 344.4a2.6 2.6 0 1 0 5.2 0a2.6 2.6 0 1 0 -5.2 0M485.6 351.1a2.6 2.6 0 1 0 5.2 0a2.6 2.6 0 1 0 -5.2 0M486.2 339.3a2.6 2.6 0 1 0 5.2 0a2.6 2.6 0 1 0 -5.2 0M486.5 338.8a2.6 2.6 0 1 0 5.2 0a2.6 2.6 0 1 0 -5.2 0M486.9 345.3a2.6 2.6 0 1 0 5.2 0a2.6 2.6 0 1 0 -5.2 0M487.4 346.6a2.6 2.6 0 1 0 5.2 0a2.6 2.6 0 1 0 -5.2 0M488.0 339.7a2.6 2.6 0 1 0 5.2 0a2.6 2.6 0 1 0 -5.2 0M488.7 344.2a2.6 2.6 0 1 0 5.2 0a2.6 2.6 0 1 0 -5.2 0M489.4 347.7a2.6 2.6 0 1 0 5.2 0a2.6 2.6 0 1 0 -5.2 0M489.5 345.9a2.6 2.6 0 1 0 5.2 0a2.6 2.6 0 1 0 -5.2 0M490.2 342.7a2.6 2.6 0 1 0 5.2 0a2.6 2.6 0 1 0 -5.2 0M490.6 341.1a2.6 2.6 0 1 0 5.2 0a2.6 2.6 0 1 0 -5.2 0M491.3 341.8a2.6 2.6 0 1 0 5.2 0a2.6 2.6 0 1 0 -5.2 0M491.5 347.6a2.6 2.6 0 1 0 5.2 0a2.6 2.6 0 1 0 -5.2 0M492.4 341.8a2.6 2.6 0 1 0 5.2 0a2.6 2.6 0 1 0 -5.2 0M492.9 340.4a2.6 2.6 0 1 0 5.2 0a2.6 2.6 0 1 0 -5.2 0M493.3 342.3a2.6 2.6 0 1 0 5.2 0a2.6 2.6 0 1 0 -5.2 0M493.5 342.2a2.6 2.6 0 1 0 5.2 0a2.6 2.6 0 1 0 -5.2 0M494.2 347.5a2.6 2.6 0 1 0 5.2 0a2.6 2.6 0 1 0 -5.2 0M495.0 349.3a2.6 2.6 0 1 0 5.2 0a2.6 2.6 0 1 0 -5.2 0M495.2 350.3a2.6 2.6 0 1 0 5.2 0a2.6 2.6 0 1 0 -5.2 0M495.9 340.7a2.6 2.6 0 1 0 5.2 0a2.6 2.6 0 1 0 -5.2 0M496.3 343.2a2.6 2.6 0 1 0 5.2 0a2.6 2.6 0 1 0 -5.2 0M497.0 341.0a2.6 2.6 0 1 0 5.2 0a2.6 2.6 0 1 0 -5.2 0M497.2 338.1a2.6 2.6 0 1 0 5.2 0a2.6 2.6 0 1 0 -5.2 0M497.6 343.1a2.6 2.6 0 1 0 5.2 0a2.6 2.6 0 1 0 -5.2 0M498.4 340.3a2.6 2.6 0 1 0 5.2 0a2.6 2.6 0 1 0 -5.2 0M499.1 350.1a2.6 2.6 0 1 0 5.2 0a2.6 2.6 0 1 0 -5.2 0M499.3 346.9a2.6 2.6 0 1 0 5.2 0a2.6 2.6 0 1 0 -5.2 0M499.7 343.9a2.6 2.6 0 1 0 5.2 0a2.6 2.6 0 1 0 -5.2 0M500.1 344.5a2.6 2.6 0 1 0 5.2 0a2.6 2.6 0 1 0 -5.2 0M500.9 339.2a2.6 2.6 0 1 0 5.2 0a2.6 2.6 0 1 0 -5.2 0M501.4 346.9a2.6 2.6 0 1 0 5.2 0a2.6 2.6 0 1 0 -5.2 0M501.9 344.6a2.6 2.6 0 1 0 5.2 0a2.6 2.6 0 1 0 -5.2 0M502.2 348.8a2.6 2.6 0 1 0 5.2 0a2.6 2.6 0 1 0 -5.2 0M502.9 352.3a2.6 2.6 0 1 0 5.2 0a2.6 2.6 0 1 0 -5.2 0M503.3 337.9a2.6 2.6 0 1 0 5.2 0a2.6 2.6 0 1 0 -5.2 0M503.9 342.6a2.6 2.6 0 1 0 5.2 0a2.6 2.6 0 1 0 -5.2 0M504.6 338.4a2.6 2.6 0 1 0 5.2 0a2.6 2.6 0 1 0 -5.2 0M505.0 342.7a2.6 2.6 0 1 0 5.2 0a2.6 2.6 0 1 0 -5.2 0M511.3 335.1a2.6 2.6 0 1 0 5.2 0a2.6 2.6 0 1 0 -5.2 0M511.9 332.2a2.6 2.6 0 1 0 5.2 0a2.6 2.6 0 1 0 -5.2 0M512.6 343.3a2.6 2.6 0 1 0 5.2 0a2.6 2.6 0 1 0 -5.2 0M512.8 346.0a2.6 2.6 0 1 0 5.2 0a2.6 2.6 0 1 0 -5.2 0M513.6 342.9a2.6 2.6 0 1 0 5.2 0a2.6 2.6 0 1 0 -5.2 0M513.9 332.5a2.6 2.6 0 1 0 5.2 0a2.6 2.6 0 1 0 -5.2 0M514.5 351.3a2.6 2.6 0 1 0 5.2 0a2.6 2.6 0 1 0 -5.2 0M514.8 340.9a2.6 2.6 0 1 0 5.2 0a2.6 2.6 0 1 0 -5.2 0M515.7 348.3a2.6 2.6 0 1 0 5.2 0a2.6 2.6 0 1 0 -5.2 0M515.8 344.6a2.6 2.6 0 1 0 5.2 0a2.6 2.6 0 1 0 -5.2 0M516.3 338.4a2.6 2.6 0 1 0 5.2 0a2.6 2.6 0 1 0 -5.2 0M516.8 350.3a2.6 2.6 0 1 0 5.2 0a2.6 2.6 0 1 0 -5.2 0M517.4 338.1a2.6 2.6 0 1 0 5.2 0a2.6 2.6 0 1 0 -5.2 0M518.0 348.7a2.6 2.6 0 1 0 5.2 0a2.6 2.6 0 1 0 -5.2 0M518.5 346.5a2.6 2.6 0 1 0 5.2 0a2.6 2.6 0 1 0 -5.2 0M519.2 350.8a2.6 2.6 0 1 0 5.2 0a2.6 2.6 0 1 0 -5.2 0M519.6 353.0a2.6 2.6 0 1 0 5.2 0a2.6 2.6 0 1 0 -5.2 0M519.8 346.2a2.6 2.6 0 1 0 5.2 0a2.6 2.6 0 1 0 -5.2 0M520.6 342.5a2.6 2.6 0 1 0 5.2 0a2.6 2.6 0 1 0 -5.2 0M521.2 346.7a2.6 2.6 0 1 0 5.2 0a2.6 2.6 0 1 0 -5.2 0M521.5 350.4a2.6 2.6 0 1 0 5.2 0a2.6 2.6 0 1 0 -5.2 0M522.0 348.4a2.6 2.6 0 1 0 5.2 0a2.6 2.6 0 1 0 -5.2 0M522.5 341.5a2.6 2.6 0 1 0 5.2 0a2.6 2.6 0 1 0 -5.2 0M522.8 336.3a2.6 2.6 0 1 0 5.2 0a2.6 2.6 0 1 0 -5.2 0M523.8 345.2a2.6 2.6 0 1 0 5.2 0a2.6 2.6 0 1 0 -5.2 0M524.2 351.1a2.6 2.6 0 1 0 5.2 0a2.6 2.6 0 1 0 -5.2 0M524.8 336.7a2.6 2.6 0 1 0 5.2 0a2.6 2.6 0 1 0 -5.2 0M525.2 345.0a2.6 2.6 0 1 0 5.2 0a2.6 2.6 0 1 0 -5.2 0M525.3 342.3a2.6 2.6 0 1 0 5.2 0a2.6 2.6 0 1 0 -5.2 0M526.2 337.3a2.6 2.6 0 1 0 5.2 0a2.6 2.6 0 1 0 -5.2 0M526.4 336.6a2.6 2.6 0 1 0 5.2 0a2.6 2.6 0 1 0 -5.2 0M526.8 342.7a2.6 2.6 0 1 0 5.2 0a2.6 2.6 0 1 0 -5.2 0M527.4 340.0a2.6 2.6 0 1 0 5.2 0a2.6 2.6 0 1 0 -5.2 0M527.9 346.6a2.6 2.6 0 1 0 5.2 0a2.6 2.6 0 1 0 -5.2 0M528.6 343.4a2.6 2.6 0 1 0 5.2 0a2.6 2.6 0 1 0 -5.2 0M529.0 334.5a2.6 2.6 0 1 0 5.2 0a2.6 2.6 0 1 0 -5.2 0M529.4 342.8a2.6 2.6 0 1 0 5.2 0a2.6 2.6 0 1 0 -5.2 0M529.9 339.3a2.6 2.6 0 1 0 5.2 0a2.6 2.6 0 1 0 -5.2 0M530.5 338.6a2.6 2.6 0 1 0 5.2 0a2.6 2.6 0 1 0 -5.2 0M531.2 336.3a2.6 2.6 0 1 0 5.2 0a2.6 2.6 0 1 0 -5.2 0M531.4 336.9a2.6 2.6 0 1 0 5.2 0a2.6 2.6 0 1 0 -5.2 0M531.9 342.1a2.6 2.6 0 1 0 5.2 0a2.6 2.6 0 1 0 -5.2 0M532.4 339.9a2.6 2.6 0 1 0 5.2 0a2.6 2.6 0 1 0 -5.2 0M532.9 333.9a2.6 2.6 0 1 0 5.2 0a2.6 2.6 0 1 0 -5.2 0M533.7 346.7a2.6 2.6 0 1 0 5.2 0a2.6 2.6 0 1 0 -5.2 0M534.2 335.0a2.6 2.6 0 1 0 5.2 0a2.6 2.6 0 1 0 -5.2 0M534.4 335.2a2.6 2.6 0 1 0 5.2 0a2.6 2.6 0 1 0 -5.2 0M535.0 341.8a2.6 2.6 0 1 0 5.2 0a2.6 2.6 0 1 0 -5.2 0M535.4 343.7a2.6 2.6 0 1 0 5.2 0a2.6 2.6 0 1 0 -5.2 0M536.2 340.4a2.6 2.6 0 1 0 5.2 0a2.6 2.6 0 1 0 -5.2 0M536.7 338.1a2.6 2.6 0 1 0 5.2 0a2.6 2.6 0 1 0 -5.2 0M537.3 338.6a2.6 2.6 0 1 0 5.2 0a2.6 2.6 0 1 0 -5.2 0M537.8 336.0a2.6 2.6 0 1 0 5.2 0a2.6 2.6 0 1 0 -5.2 0M538.0 348.9a2.6 2.6 0 1 0 5.2 0a2.6 2.6 0 1 0 -5.2 0M538.5 341.0a2.6 2.6 0 1 0 5.2 0a2.6 2.6 0 1 0 -5.2 0M539.1 342.2a2.6 2.6 0 1 0 5.2 0a2.6 2.6 0 1 0 -5.2 0M539.6 334.4a2.6 2.6 0 1 0 5.2 0a2.6 2.6 0 1 0 -5.2 0M540.1 339.8a2.6 2.6 0 1 0 5.2 0a2.6 2.6 0 1 0 -5.2 0M540.7 346.1a2.6 2.6 0 1 0 5.2 0a2.6 2.6 0 1 0 -5.2 0M541.2 336.9a2.6 2.6 0 1 0 5.2 0a2.6 2.6 0 1 0 -5.2 0M541.6 349.4a2.6 2.6 0 1 0 5.2 0a2.6 2.6 0 1 0 -5.2 0M542.3 338.2a2.6 2.6 0 1 0 5.2 0a2.6 2.6 0 1 0 -5.2 0M542.7 349.8a2.6 2.6 0 1 0 5.2 0a2.6 2.6 0 1 0 -5.2 0M543.2 344.4a2.6 2.6 0 1 0 5.2 0a2.6 2.6 0 1 0 -5.2 0M543.6 346.7a2.6 2.6 0 1 0 5.2 0a2.6 2.6 0 1 0 -5.2 0M544.2 338.9a2.6 2.6 0 1 0 5.2 0a2.6 2.6 0 1 0 -5.2 0M544.6 345.2a2.6 2.6 0 1 0 5.2 0a2.6 2.6 0 1 0 -5.2 0M545.2 339.1a2.6 2.6 0 1 0 5.2 0a2.6 2.6 0 1 0 -5.2 0M545.7 345.3a2.6 2.6 0 1 0 5.2 0a2.6 2.6 0 1 0 -5.2 0M546.4 350.0a2.6 2.6 0 1 0 5.2 0a2.6 2.6 0 1 0 -5.2 0M546.7 344.8a2.6 2.6 0 1 0 5.2 0a2.6 2.6 0 1 0 -5.2 0M547.4 345.6a2.6 2.6 0 1 0 5.2 0a2.6 2.6 0 1 0 -5.2 0M547.8 350.2a2.6 2.6 0 1 0 5.2 0a2.6 2.6 0 1 0 -5.2 0M548.0 339.2a2.6 2.6 0 1 0 5.2 0a2.6 2.6 0 1 0 -5.2 0M548.7 341.0a2.6 2.6 0 1 0 5.2 0a2.6 2.6 0 1 0 -5.2 0M570.5 340.2a2.6 2.6 0 1 0 5.2 0a2.6 2.6 0 1 0 -5.2 0M571.0 350.3a2.6 2.6 0 1 0 5.2 0a2.6 2.6 0 1 0 -5.2 0M571.4 344.4a2.6 2.6 0 1 0 5.2 0a2.6 2.6 0 1 0 -5.2 0M571.8 355.1a2.6 2.6 0 1 0 5.2 0a2.6 2.6 0 1 0 -5.2 0M572.2 341.0a2.6 2.6 0 1 0 5.2 0a2.6 2.6 0 1 0 -5.2 0M572.6 355.4a2.6 2.6 0 1 0 5.2 0a2.6 2.6 0 1 0 -5.2 0M573.3 350.5a2.6 2.6 0 1 0 5.2 0a2.6 2.6 0 1 0 -5.2 0M573.5 352.5a2.6 2.6 0 1 0 5.2 0a2.6 2.6 0 1 0 -5.2 0M574.0 335.4a2.6 2.6 0 1 0 5.2 0a2.6 2.6 0 1 0 -5.2 0M574.6 349.8a2.6 2.6 0 1 0 5.2 0a2.6 2.6 0 1 0 -5.2 0M575.1 347.4a2.6 2.6 0 1 0 5.2 0a2.6 2.6 0 1 0 -5.2 0M575.4 347.1a2.6 2.6 0 1 0 5.2 0a2.6 2.6 0 1 0 -5.2 0M575.8 339.3a2.6 2.6 0 1 0 5.2 0a2.6 2.6 0 1 0 -5.2 0M576.1 343.5a2.6 2.6 0 1 0 5.2 0a2.6 2.6 0 1 0 -5.2 0M576.7 339.2a2.6 2.6 0 1 0 5.2 0a2.6 2.6 0 1 0 -5.2 0M577.1 339.8a2.6 2.6 0 1 0 5.2 0a2.6 2.6 0 1 0 -5.2 0M577.7 349.7a2.6 2.6 0 1 0 5.2 0a2.6 2.6 0 1 0 -5.2 0M577.9 333.5a2.6 2.6 0 1 0 5.2 0a2.6 2.6 0 1 0 -5.2 0M578.2 335.5a2.6 2.6 0 1 0 5.2 0a2.6 2.6 0 1 0 -5.2 0M578.8 337.4a2.6 2.6 0 1 0 5.2 0a2.6 2.6 0 1 0 -5.2 0M579.0 354.3a2.6 2.6 0 1 0 5.2 0a2.6 2.6 0 1 0 -5.2 0M579.8 346.8a2.6 2.6 0 1 0 5.2 0a2.6 2.6 0 1 0 -5.2 0M580.1 338.3a2.6 2.6 0 1 0 5.2 0a2.6 2.6 0 1 0 -5.2 0M580.4 358.6a2.6 2.6 0 1 0 5.2 0a2.6 2.6 0 1 0 -5.2 0M581.1 338.0a2.6 2.6 0 1 0 5.2 0a2.6 2.6 0 1 0 -5.2 0M581.3 357.9a2.6 2.6 0 1 0 5.2 0a2.6 2.6 0 1 0 -5.2 0M582.0 360.7a2.6 2.6 0 1 0 5.2 0a2.6 2.6 0 1 0 -5.2 0M582.2 346.9a2.6 2.6 0 1 0 5.2 0a2.6 2.6 0 1 0 -5.2 0M582.8 359.0a2.6 2.6 0 1 0 5.2 0a2.6 2.6 0 1 0 -5.2 0M169.7 345.8a2.6 2.6 0 1 0 5.2 0a2.6 2.6 0 1 0 -5.2 0M185.7 326.7a2.6 2.6 0 1 0 5.2 0a2.6 2.6 0 1 0 -5.2 0M190.4 322.0a2.6 2.6 0 1 0 5.2 0a2.6 2.6 0 1 0 -5.2 0M193.2 347.2a2.6 2.6 0 1 0 5.2 0a2.6 2.6 0 1 0 -5.2 0M197.1 353.3a2.6 2.6 0 1 0 5.2 0a2.6 2.6 0 1 0 -5.2 0M205.8 348.6a2.6 2.6 0 1 0 5.2 0a2.6 2.6 0 1 0 -5.2 0M205.4 329.0a2.6 2.6 0 1 0 5.2 0a2.6 2.6 0 1 0 -5.2 0M212.9 354.3a2.6 2.6 0 1 0 5.2 0a2.6 2.6 0 1 0 -5.2 0M225.4 324.7a2.6 2.6 0 1 0 5.2 0a2.6 2.6 0 1 0 -5.2 0M272.5 336.8a2.6 2.6 0 1 0 5.2 0a2.6 2.6 0 1 0 -5.2 0M284.5 337.6a2.6 2.6 0 1 0 5.2 0a2.6 2.6 0 1 0 -5.2 0M291.6 305.4a2.6 2.6 0 1 0 5.2 0a2.6 2.6 0 1 0 -5.2 0M422.4 354.0a2.6 2.6 0 1 0 5.2 0a2.6 2.6 0 1 0 -5.2 0M466.0 369.0a2.6 2.6 0 1 0 5.2 0a2.6 2.6 0 1 0 -5.2 0M488.7 379.8a2.6 2.6 0 1 0 5.2 0a2.6 2.6 0 1 0 -5.2 0M492.6 368.1a2.6 2.6 0 1 0 5.2 0a2.6 2.6 0 1 0 -5.2 0M367.4 319.0a2.6 2.6 0 1 0 5.2 0a2.6 2.6 0 1 0 -5.2 0" fill="#000"/>
<path d="M87.6 342.4L89.4 342.4L91.2 342.4L93.0 342.4L94.8 342.4L96.6 342.3L98.5 342.3L100.3 342.3L102.1 342.3L103.9 342.3L105.7 342.3L107.5 342.3L109.3 342.3L111.2 342.2L113.0 342.2L114.8 342.2L116.6 342.2L118.4 342.2L120.2 342.2L122.0 342.1L123.9 342.1L125.7 342.1L127.5 342.1L129.3 342.1L131.1 342.0L132.9 342.0L134.7 342.0L136.6 342.0L138.4 341.9L140.2 341.9L142.0 341.9L143.8 341.9L145.6 341.8L147.4 341.8L149.3 341.8L151.1 341.8L152.9 341.7L154.7 341.7L156.5 341.7L158.3 341.6L160.1 341.6L162.0 341.5L163.8 341.5L165.6 341.5L167.4 341.4L169.2 341.4L171.0 341.3L172.9 341.3L174.7 341.2L176.5 341.2L178.3 341.1L180.1 341.1L181.9 341.0L183.7 341.0L185.6 340.9L187.4 340.8L189.2 340.8L191.0 340.7L192.8 340.6L194.6 340.5L196.4 340.5L198.3 340.4L200.1 340.3L201.9 340.2L203.7 340.1L205.5 340.0L207.3 339.9L209.1 339.8L211.0 339.7L212.8 339.6L214.6 339.4L216.4 339.3L218.2 339.2L220.0 339.0L221.8 338.9L223.7 338.7L225.5 338.6L227.3 338.4L229.1 338.2L230.9 338.1L232.7 337.9L234.5 337.7L236.4 337.4L238.2 337.2L240.0 337.0L241.8 336.7L243.6 336.5L245.4 336.2L247.2 335.9L249.1 335.6L250.9 335.3L252.7 335.0L254.5 334.6L256.3 334.2L258.1 333.8L260.0 333.4L261.8 333.0L263.6 332.5L265.4 332.0L267.2 331.5L269.0 330.9L270.8 330.3L272.7 329.7L274.5 329.0L276.3 328.3L278.1 327.6L279.9 326.8L281.7 325.9L283.5 324.9L285.4 323.9L287.2 322.9L289.0 321.7L290.8 320.5L292.6 319.1L294.4 317.7L296.2 316.1L298.1 314.4L299.9 312.5L301.7 310.5L303.5 308.2L303.5 308.2L303.6 308.0L303.8 307.9L303.9 307.7L304.1 307.5L304.2 307.3L304.4 307.1L304.5 306.9L304.6 306.7L304.8 306.5L304.9 306.3L305.1 306.1L305.2 305.9L305.3 305.7L305.5 305.5L305.6 305.3L305.8 305.1L305.9 304.9L306.1 304.7L306.2 304.5L306.3 304.2L306.5 304.0L306.6 303.8L306.8 303.6L306.9 303.4L307.1 303.2L307.2 302.9L307.3 302.7L307.5 302.5L307.6 302.2L307.8 302.0L307.9 301.8L308.1 301.5L308.2 301.3L308.3 301.1L308.5 300.8L308.6 300.6L308.8 300.3L308.9 300.1L309.0 299.8L309.2 299.6L309.3 299.3L309.5 299.1L309.6 298.8L309.8 298.6L309.9 298.3L310.0 298.0L310.2 297.8L310.3 297.5L310.5 297.2L310.6 296.9L310.8 296.7L310.9 296.4L311.0 296.1L311.2 295.8L311.3 295.5L311.5 295.2L311.6 294.9L311.8 294.6L311.9 294.3L312.0 294.0L312.2 293.7L312.3 293.4L312.5 293.1L312.6 292.8L312.7 292.5L312.9 292.2L313.0 291.9L313.2 291.5L313.3 291.2L313.5 290.9L313.6 290.5L313.7 290.2L313.9 289.9L314.0 289.5L314.2 289.2L314.3 288.8L314.5 288.5L314.6 288.1L314.7 287.8L314.9 287.4L315.0 287.0L315.2 286.6L315.3 286.3L315.5 285.9L315.6 285.5L315.7 285.1L315.9 284.7L316.0 284.3L316.2 283.9L316.3 283.5L316.4 283.1L316.6 282.7L316.7 282.3L316.9 281.9L317.0 281.4L317.2 281.0L317.3 280.6L317.4 280.1L317.6 279.7L317.7 279.3L317.9 278.8L318.0 278.3L318.2 277.9L318.3 277.4L318.4 276.9L318.6 276.5L318.7 276.0L318.9 275.5L319.0 275.0L319.1 274.5L319.3 274.0L319.4 273.5L319.6 272.9L319.7 272.4L319.9 271.9L320.0 271.3L320.1 270.8L320.3 270.2L320.4 269.7L320.6 269.1L320.7 268.5L320.9 268.0L321.0 267.4L321.1 266.8L321.3 266.2L321.4 265.6L321.6 265.0L321.7 264.3L321.9 263.7L322.0 263.1L322.1 262.4L322.3 261.8L322.4 261.1L322.6 260.4L322.7 259.7L322.8 259.0L323.0 258.3L323.1 257.6L323.3 256.9L323.4 256.2L323.6 255.4L323.7 254.7L323.8 253.9L324.0 253.1L324.1 252.4L324.3 251.6L324.4 250.8L324.6 249.9L324.7 249.1L324.8 248.3L325.0 247.4L325.1 246.5L325.3 245.7L325.4 244.8L325.6 243.9L325.7 243.0L325.8 242.0L326.0 241.1L326.1 240.1L326.3 239.1L326.4 238.1L326.5 237.1L326.7 236.1L326.8 235.1L327.0 234.0L327.1 232.9L327.3 231.9L327.4 230.7L327.5 229.6L327.7 228.5L327.8 227.3L328.0 226.1L328.1 224.9L328.3 223.7L328.4 222.5L328.5 221.2L328.7 219.9L328.8 218.6L329.0 217.3L329.1 215.9L329.3 214.5L329.4 213.1L329.5 211.7L329.7 210.3L329.8 208.8L330.0 207.3L330.1 205.8L330.2 204.2L330.4 202.6L330.5 201.0L330.7 199.4L330.8 197.7L331.0 196.0L331.1 194.3L331.2 192.5L331.4 190.8L331.5 188.9L331.7 187.1L331.8 185.2L332.0 183.3L332.1 181.4L332.2 179.4L332.4 177.4L332.5 175.4L332.7 173.3L332.8 171.2L332.9 169.1L333.1 167.0L333.2 164.8L333.4 162.6L333.5 160.4L333.7 158.2L333.8 156.0L333.9 153.7L334.1 151.4L334.2 149.2L334.4 146.9L334.5 144.6L334.7 142.4L334.8 140.1L334.9 137.9L335.1 135.8L335.2 133.6L335.4 131.5L335.5 129.5L335.7 127.6L335.8 125.7L335.9 124.0L336.1 122.3L336.2 120.8L336.4 119.4L336.5 118.2L336.6 117.1L336.8 116.2L336.9 115.4L337.1 114.9L337.2 114.5L337.4 114.3L337.5 114.3L337.6 114.5L337.8 114.9L337.9 115.5L338.1 116.3L338.2 117.3L338.4 118.4L338.5 119.7L338.6 121.1L338.8 122.6L338.9 124.3L339.1 126.1L339.2 127.9L339.4 129.9L339.5 131.9L339.6 134.0L339.8 136.1L339.9 138.3L340.1 140.5L340.2 142.8L340.3 145.0L340.5 147.3L340.6 149.6L340.8 151.8L340.9 154.1L341.1 156.4L341.2 158.6L341.3 160.8L341.5 163.0L341.6 165.2L341.8 167.4L341.9 169.5L342.1 171.6L342.2 173.7L342.3 175.8L342.5 177.8L342.6 179.8L342.8 181.7L342.9 183.7L343.1 185.6L343.2 187.4L343.3 189.3L343.5 191.1L343.6 192.9L343.8 194.6L343.9 196.3L344.0 198.0L344.2 199.7L344.3 201.3L344.5 202.9L344.6 204.5L344.8 206.0L344.9 207.6L345.0 209.1L345.2 210.5L345.3 212.0L345.5 213.4L345.6 214.8L345.8 216.2L345.9 217.5L346.0 218.8L346.2 220.1L346.3 221.4L346.5 222.7L346.6 223.9L346.7 225.1L346.9 226.3L347.0 227.5L347.2 228.7L347.3 229.8L347.5 230.9L347.6 232.0L347.7 233.1L347.9 234.2L348.0 235.3L348.2 236.3L348.3 237.3L348.5 238.3L348.6 239.3L348.7 240.3L348.9 241.2L349.0 242.2L349.2 243.1L349.3 244.0L349.5 244.9L349.6 245.8L349.7 246.7L349.9 247.6L350.0 248.4L350.2 249.3L350.3 250.1L350.4 250.9L350.6 251.7L350.7 252.5L350.9 253.3L351.0 254.0L351.2 254.8L351.3 255.6L351.4 256.3L351.6 257.0L351.7 257.7L351.9 258.5L352.0 259.2L352.2 259.8L352.3 260.5L352.4 261.2L352.6 261.9L352.7 262.5L352.9 263.2L353.0 263.8L353.2 264.4L353.3 265.1L353.4 265.7L353.6 266.3L353.7 266.9L353.9 267.5L354.0 268.1L354.1 268.6L354.3 269.2L354.4 269.8L354.6 270.3L354.7 270.9L354.9 271.4L355.0 272.0L355.1 272.5L355.3 273.0L355.4 273.5L355.6 274.1L355.7 274.6L355.9 275.1L356.0 275.6L356.1 276.1L356.3 276.5L356.4 277.0L356.6 277.5L356.7 278.0L356.9 278.4L357.0 278.9L357.1 279.3L357.3 279.8L357.4 280.2L357.6 280.7L357.7 281.1L357.8 281.5L358.0 282.0L358.1 282.4L358.3 282.8L358.4 283.2L358.6 283.6L358.7 284.0L358.8 284.4L359.0 284.8L359.1 285.2L359.3 285.6L359.4 286.0L359.6 286.3L359.7 286.7L359.8 287.1L360.0 287.5L360.1 287.8L360.3 288.2L360.4 288.5L360.5 288.9L360.7 289.2L360.8 289.6L361.0 289.9L361.1 290.3L361.3 290.6L361.4 290.9L361.5 291.3L361.7 291.6L361.8 291.9L362.0 292.2L362.1 292.6L362.3 292.9L362.4 293.2L362.5 293.5L362.7 293.8L362.8 294.1L363.0 294.4L363.1 294.7L363.3 295.0L363.4 295.3L363.5 295.6L363.7 295.9L363.8 296.1L364.0 296.4L364.1 296.7L364.2 297.0L364.4 297.3L364.5 297.5L364.7 297.8L364.8 298.1L365.0 298.3L365.1 298.6L365.2 298.9L365.4 299.1L365.5 299.4L365.7 299.6L365.8 299.9L366.0 300.1L366.1 300.4L366.2 300.6L366.4 300.9L366.5 301.1L366.7 301.3L366.8 301.6L367.0 301.8L367.1 302.1L367.2 302.3L367.4 302.5L367.5 302.7L367.7 303.0L367.8 303.2L367.9 303.4L368.1 303.6L368.2 303.9L368.4 304.1L368.5 304.3L368.7 304.5L368.8 304.7L368.9 304.9L369.1 305.1L369.2 305.3L369.4 305.5L369.5 305.7L369.7 306.0L369.8 306.2L369.9 306.4L370.1 306.5L370.2 306.7L370.4 306.9L370.5 307.1L370.7 307.3L370.8 307.5L370.9 307.7L371.1 307.9L371.2 308.1L371.4 308.3L371.5 308.4L371.6 308.6L371.8 308.8L371.9 309.0L372.1 309.2L372.2 309.3L372.4 309.5L372.5 309.7L372.6 309.9L372.8 310.0L372.9 310.2L373.1 310.4L373.2 310.5L373.4 310.7L373.5 310.9L373.6 311.0L373.8 311.2L373.9 311.4L374.1 311.5L374.2 311.7L374.3 311.8L374.5 312.0L374.5 312.0L376.3 313.9L378.1 315.6L379.9 317.2L381.7 318.7L383.4 320.0L385.2 321.3L387.0 322.5L388.8 323.6L390.6 324.6L392.4 325.5L394.2 326.4L396.0 327.2L397.8 328.0L399.5 328.7L401.3 329.4L403.1 330.0L404.9 330.6L406.7 331.2L408.5 331.7L410.3 332.3L412.1 332.7L413.9 333.2L415.7 333.6L417.4 334.0L419.2 334.4L421.0 334.8L422.8 335.1L424.6 335.4L426.4 335.7L428.2 336.0L430.0 336.3L431.8 336.6L433.6 336.8L435.3 337.1L437.1 337.3L438.9 337.5L440.7 337.7L442.5 337.9L444.3 338.1L446.1 338.3L447.9 338.4L449.7 338.6L451.4 338.8L453.2 338.9L455.0 339.1L456.8 339.2L458.6 339.3L460.4 339.5L462.2 339.6L464.0 339.7L465.8 339.8L467.6 339.9L469.3 340.0L471.1 340.1L472.9 340.2L474.7 340.3L476.5 340.4L478.3 340.5L480.1 340.5L481.9 340.6L483.7 340.7L485.5 340.7L487.2 340.8L489.0 340.9L490.8 340.9L492.6 341.0L494.4 341.1L496.2 341.1L498.0 341.2L499.8 341.2L501.6 341.3L503.4 341.3L505.1 341.4L506.9 341.4L508.7 341.4L510.5 341.5L512.3 341.5L514.1 341.6L515.9 341.6L517.7 341.6L519.5 341.7L521.2 341.7L523.0 341.7L524.8 341.8L526.6 341.8L528.4 341.8L530.2 341.9L532.0 341.9L533.8 341.9L535.6 341.9L537.4 342.0L539.1 342.0L540.9 342.0L542.7 342.0L544.5 342.0L546.3 342.1L548.1 342.1L549.9 342.1L551.7 342.1L553.5 342.1L555.3 342.2L557.0 342.2L558.8 342.2L560.6 342.2L562.4 342.2L564.2 342.2L566.0 342.3L567.8 342.3L569.6 342.3L571.4 342.3L573.2 342.3L574.9 342.3L576.7 342.3L578.5 342.3L580.3 342.4L582.1 342.4L583.9 342.4L585.7 342.4L587.5 342.4" stroke="#f0f" stroke-width="1.1" fill="none"/>
<path d="M106.3 437.0v-19M106.3 62.3v19M145.7 437.0v-9.5M145.7 62.3v9.5M185.2 437.0v-9.5M185.2 62.3v9.5M224.6 437.0v-9.5M224.6 62.3v9.5M264.1 437.0v-9.5M264.1 62.3v9.5M303.5 437.0v-19M303.5 62.3v19M342.9 437.0v-9.5M342.9 62.3v9.5M382.4 437.0v-9.5M382.4 62.3v9.5M421.8 437.0v-9.5M421.8 62.3v9.5M461.3 437.0v-9.5M461.3 62.3v9.5M500.7 437.0v-19M500.7 62.3v19M540.1 437.0v-9.5M540.1 62.3v9.5M579.6 437.0v-9.5M579.6 62.3v9.5M87.5 70.1h9.5M587.5 70.1h-9.5M87.5 83.5h9.5M587.5 83.5h-9.5M87.5 96.9h9.5M587.5 96.9h-9.5M87.5 110.3h19M587.5 110.3h-19M87.5 123.7h9.5M587.5 123.7h-9.5M87.5 137.1h9.5M587.5 137.1h-9.5M87.5 150.5h9.5M587.5 150.5h-9.5M87.5 163.9h9.5M587.5 163.9h-9.5M87.5 177.3h19M587.5 177.3h-19M87.5 190.7h9.5M587.5 190.7h-9.5M87.5 204.1h9.5M587.5 204.1h-9.5M87.5 217.5h9.5M587.5 217.5h-9.5M87.5 230.9h9.5M587.5 230.9h-9.5M87.5 244.2h19M587.5 244.2h-19M87.5 257.6h9.5M587.5 257.6h-9.5M87.5 271.0h9.5M587.5 271.0h-9.5M87.5 284.4h9.5M587.5 284.4h-9.5M87.5 297.8h9.5M587.5 297.8h-9.5M87.5 311.2h19M587.5 311.2h-19M87.5 324.6h9.5M587.5 324.6h-9.5M87.5 338.0h9.5M587.5 338.0h-9.5M87.5 351.4h9.5M587.5 351.4h-9.5M87.5 364.8h9.5M587.5 364.8h-9.5M87.5 378.2h19M587.5 378.2h-19M87.5 391.6h9.5M587.5 391.6h-9.5M87.5 405.0h9.5M587.5 405.0h-9.5M87.5 418.4h9.5M587.5 418.4h-9.5M87.5 431.8h9.5M587.5 431.8h-9.5" stroke="#000" stroke-width="1.15" fill="none"/>
<rect x="87.5" y="62.3" width="500.0" height="374.7" stroke="#000" stroke-width="1.5" fill="none"/>
<g stroke="#000" stroke-width="0.55">
<text x="238.5" y="41.2" font-size="21" textLength="198.4" lengthAdjust="spacingAndGlyphs">OGLE-2025-BLG-0651</text>
<g font-size="19">
<text x="41.5" y="117" textLength="36.8" lengthAdjust="spacingAndGlyphs">16.5</text>
<text x="57.8" y="184" textLength="20.2" lengthAdjust="spacingAndGlyphs">17</text>
<text x="41.5" y="251.3" textLength="36.8" lengthAdjust="spacingAndGlyphs">17.5</text>
<text x="57.8" y="318.2" textLength="20.2" lengthAdjust="spacingAndGlyphs">18</text>
<text x="41.5" y="385.2" textLength="36.8" lengthAdjust="spacingAndGlyphs">18.5</text>
<text x="80.3" y="462.2" textLength="52" lengthAdjust="spacingAndGlyphs">10750</text>
<text x="277.6" y="462.2" textLength="52" lengthAdjust="spacingAndGlyphs">10800</text>
<text x="474.8" y="462.2" textLength="52" lengthAdjust="spacingAndGlyphs">10850</text>
</g>
<text x="272.5" y="491.6" font-size="19.5" textLength="129" lengthAdjust="spacingAndGlyphs">HJD - 2450000</text>
<text transform="translate(27 302.5) rotate(-90)" font-size="19.5" textLength="106" lengthAdjust="spacingAndGlyphs">I magnitude</text>
</g>
</svg>
</body></html>
